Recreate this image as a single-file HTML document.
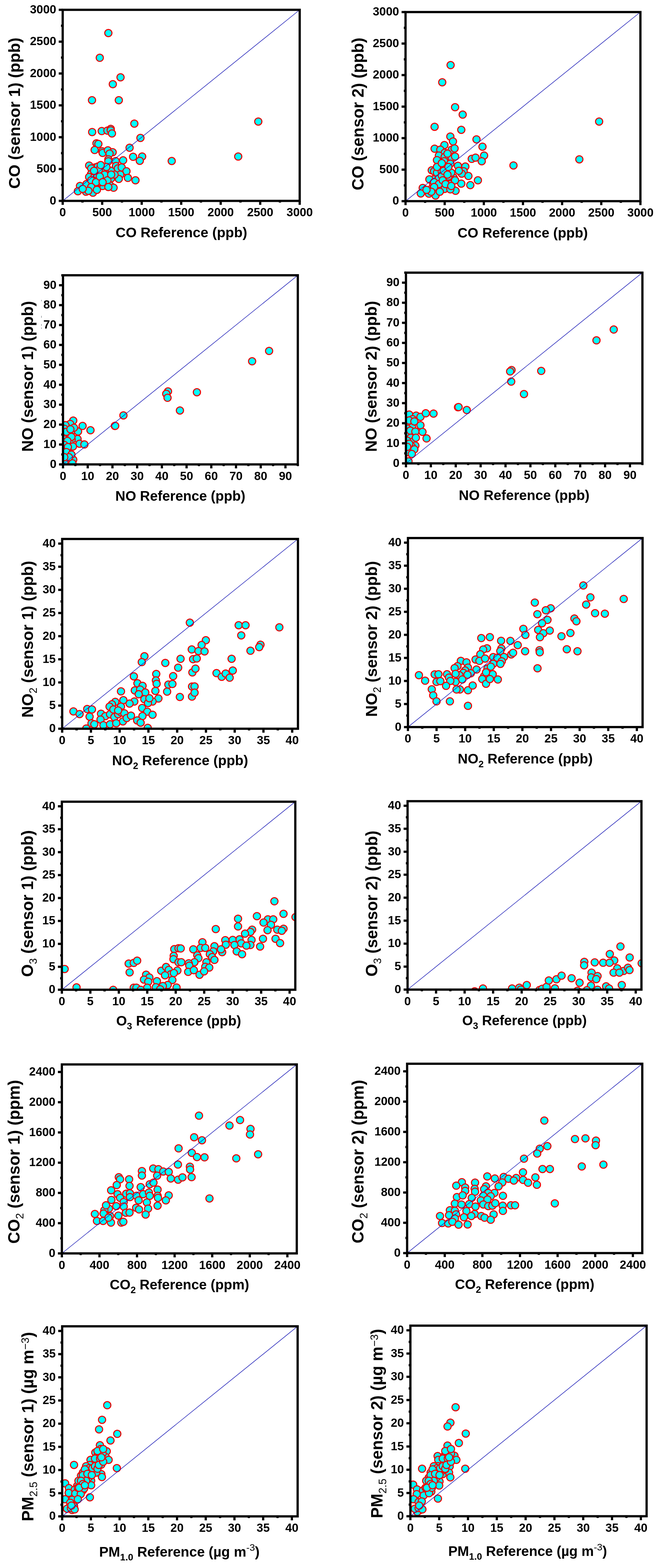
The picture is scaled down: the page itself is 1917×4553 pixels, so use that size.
<!DOCTYPE html>
<html><head><meta charset="utf-8"><title>Sensor vs reference scatter plots</title>
<style>html,body{margin:0;padding:0;background:#fff;}body{width:1917px;height:4553px;overflow:hidden;}svg{display:block;}</style>
</head><body>
<svg width="1917" height="4553" viewBox="0 0 1917 4553">
<rect width="1917" height="4553" fill="#fff"/>
<g><clipPath id="c0"><rect x="182.1" y="28.5" width="688.4" height="554.8"/></clipPath><g clip-path="url(#c0)" fill="#00ffff" stroke="#ee0000" stroke-width="3.0"><circle cx="390.2" cy="359.0" r="10.5"/><circle cx="267.7" cy="383.4" r="10.5"/><circle cx="295.4" cy="380.6" r="10.5"/><circle cx="312.0" cy="379.2" r="10.5"/><circle cx="321.6" cy="374.2" r="10.5"/><circle cx="321.6" cy="378.4" r="10.5"/><circle cx="325.2" cy="387.5" r="10.5"/><circle cx="407.9" cy="400.5" r="10.5"/><circle cx="280.2" cy="416.3" r="10.5"/><circle cx="285.7" cy="417.9" r="10.5"/><circle cx="274.9" cy="435.6" r="10.5"/><circle cx="296.7" cy="439.2" r="10.5"/><circle cx="298.1" cy="443.9" r="10.5"/><circle cx="313.3" cy="436.5" r="10.5"/><circle cx="327.2" cy="442.0" r="10.5"/><circle cx="318.3" cy="446.1" r="10.5"/><circle cx="376.4" cy="429.0" r="10.5"/><circle cx="386.6" cy="455.3" r="10.5"/><circle cx="412.9" cy="454.4" r="10.5"/><circle cx="406.0" cy="466.9" r="10.5"/><circle cx="314.7" cy="462.7" r="10.5"/><circle cx="314.7" cy="468.2" r="10.5"/><circle cx="335.7" cy="467.7" r="10.5"/><circle cx="357.6" cy="465.5" r="10.5"/><circle cx="258.9" cy="480.7" r="10.5"/><circle cx="276.0" cy="486.2" r="10.5"/><circle cx="284.3" cy="483.5" r="10.5"/><circle cx="264.9" cy="489.0" r="10.5"/><circle cx="298.1" cy="487.6" r="10.5"/><circle cx="310.6" cy="493.7" r="10.5"/><circle cx="324.4" cy="495.9" r="10.5"/><circle cx="336.8" cy="482.1" r="10.5"/><circle cx="342.4" cy="489.0" r="10.5"/><circle cx="353.4" cy="486.2" r="10.5"/><circle cx="367.3" cy="497.3" r="10.5"/><circle cx="264.4" cy="505.6" r="10.5"/><circle cx="258.9" cy="513.9" r="10.5"/><circle cx="273.2" cy="515.3" r="10.5"/><circle cx="303.7" cy="515.3" r="10.5"/><circle cx="298.1" cy="507.0" r="10.5"/><circle cx="323.0" cy="518.0" r="10.5"/><circle cx="349.3" cy="507.0" r="10.5"/><circle cx="345.1" cy="519.4" r="10.5"/><circle cx="371.4" cy="516.6" r="10.5"/><circle cx="393.5" cy="523.5" r="10.5"/><circle cx="291.2" cy="526.3" r="10.5"/><circle cx="306.4" cy="529.1" r="10.5"/><circle cx="312.0" cy="533.2" r="10.5"/><circle cx="320.2" cy="538.8" r="10.5"/><circle cx="329.9" cy="545.1" r="10.5"/><circle cx="298.1" cy="540.1" r="10.5"/><circle cx="232.3" cy="540.1" r="10.5"/><circle cx="226.2" cy="555.3" r="10.5"/><circle cx="249.7" cy="556.7" r="10.5"/><circle cx="256.7" cy="538.8" r="10.5"/><circle cx="271.9" cy="541.5" r="10.5"/><circle cx="269.9" cy="559.5" r="10.5"/><circle cx="280.2" cy="541.5" r="10.5"/><circle cx="287.1" cy="529.1" r="10.5"/><circle cx="281.5" cy="507.0" r="10.5"/><circle cx="251.1" cy="534.6" r="10.5"/><circle cx="303.7" cy="495.9" r="10.5"/><circle cx="332.7" cy="507.0" r="10.5"/><circle cx="287.1" cy="493.1" r="10.5"/><circle cx="314.7" cy="95.9" r="10.5"/><circle cx="289.8" cy="167.8" r="10.5"/><circle cx="350.1" cy="224.5" r="10.5"/><circle cx="327.7" cy="244.4" r="10.5"/><circle cx="267.2" cy="290.9" r="10.5"/><circle cx="345.1" cy="290.9" r="10.5"/><circle cx="750.2" cy="352.9" r="10.5"/><circle cx="691.9" cy="454.6" r="10.5"/><circle cx="498.8" cy="467.5" r="10.5"/><circle cx="264.9" cy="523.5" r="10.5"/><circle cx="278.8" cy="529.1" r="10.5"/><circle cx="264.9" cy="542.9" r="10.5"/><circle cx="303.7" cy="507.0" r="10.5"/><circle cx="312.0" cy="523.5" r="10.5"/><circle cx="323.0" cy="507.0" r="10.5"/><circle cx="289.8" cy="512.5" r="10.5"/><circle cx="298.1" cy="529.1" r="10.5"/><circle cx="314.7" cy="542.9" r="10.5"/><circle cx="281.5" cy="551.2" r="10.5"/><circle cx="256.7" cy="554.0" r="10.5"/><circle cx="240.1" cy="548.4" r="10.5"/><circle cx="273.2" cy="495.9" r="10.5"/><circle cx="309.2" cy="484.8" r="10.5"/><circle cx="292.6" cy="479.3" r="10.5"/></g><line x1="182.1" y1="583.3" x2="870.5" y2="28.5" stroke="#1414b4" stroke-width="1.5"/><rect x="182.1" y="28.5" width="688.4" height="554.8" fill="none" stroke="#000" stroke-width="6.5"/><line x1="182.1" y1="583.3" x2="182.1" y2="594.8" stroke="#000" stroke-width="6.5"/><line x1="239.5" y1="583.3" x2="239.5" y2="588.3" stroke="#000" stroke-width="6.5"/><line x1="296.8" y1="583.3" x2="296.8" y2="594.8" stroke="#000" stroke-width="6.5"/><line x1="354.2" y1="583.3" x2="354.2" y2="588.3" stroke="#000" stroke-width="6.5"/><line x1="411.6" y1="583.3" x2="411.6" y2="594.8" stroke="#000" stroke-width="6.5"/><line x1="468.9" y1="583.3" x2="468.9" y2="588.3" stroke="#000" stroke-width="6.5"/><line x1="526.3" y1="583.3" x2="526.3" y2="594.8" stroke="#000" stroke-width="6.5"/><line x1="583.7" y1="583.3" x2="583.7" y2="588.3" stroke="#000" stroke-width="6.5"/><line x1="641.0" y1="583.3" x2="641.0" y2="594.8" stroke="#000" stroke-width="6.5"/><line x1="698.4" y1="583.3" x2="698.4" y2="588.3" stroke="#000" stroke-width="6.5"/><line x1="755.8" y1="583.3" x2="755.8" y2="594.8" stroke="#000" stroke-width="6.5"/><line x1="813.1" y1="583.3" x2="813.1" y2="588.3" stroke="#000" stroke-width="6.5"/><line x1="870.5" y1="583.3" x2="870.5" y2="594.8" stroke="#000" stroke-width="6.5"/><line x1="182.1" y1="583.3" x2="170.6" y2="583.3" stroke="#000" stroke-width="6.5"/><line x1="182.1" y1="537.1" x2="177.1" y2="537.1" stroke="#000" stroke-width="6.5"/><line x1="182.1" y1="490.8" x2="170.6" y2="490.8" stroke="#000" stroke-width="6.5"/><line x1="182.1" y1="444.6" x2="177.1" y2="444.6" stroke="#000" stroke-width="6.5"/><line x1="182.1" y1="398.4" x2="170.6" y2="398.4" stroke="#000" stroke-width="6.5"/><line x1="182.1" y1="352.1" x2="177.1" y2="352.1" stroke="#000" stroke-width="6.5"/><line x1="182.1" y1="305.9" x2="170.6" y2="305.9" stroke="#000" stroke-width="6.5"/><line x1="182.1" y1="259.7" x2="177.1" y2="259.7" stroke="#000" stroke-width="6.5"/><line x1="182.1" y1="213.4" x2="170.6" y2="213.4" stroke="#000" stroke-width="6.5"/><line x1="182.1" y1="167.2" x2="177.1" y2="167.2" stroke="#000" stroke-width="6.5"/><line x1="182.1" y1="121.0" x2="170.6" y2="121.0" stroke="#000" stroke-width="6.5"/><line x1="182.1" y1="74.7" x2="177.1" y2="74.7" stroke="#000" stroke-width="6.5"/><line x1="182.1" y1="28.5" x2="170.6" y2="28.5" stroke="#000" stroke-width="6.5"/><g font-family="'Liberation Sans', Arial, sans-serif" font-weight="bold" font-size="34.3" fill="#000"><text x="182.1" y="628.3" text-anchor="middle">0</text><text x="296.8" y="628.3" text-anchor="middle">500</text><text x="411.6" y="628.3" text-anchor="middle">1000</text><text x="526.3" y="628.3" text-anchor="middle">1500</text><text x="641.0" y="628.3" text-anchor="middle">2000</text><text x="755.8" y="628.3" text-anchor="middle">2500</text><text x="870.5" y="628.3" text-anchor="middle">3000</text><text x="163.3" y="593.6" text-anchor="end">0</text><text x="163.3" y="501.1" text-anchor="end">500</text><text x="163.3" y="408.7" text-anchor="end">1000</text><text x="163.3" y="316.2" text-anchor="end">1500</text><text x="163.3" y="223.7" text-anchor="end">2000</text><text x="163.3" y="131.3" text-anchor="end">2500</text><text x="163.3" y="38.8" text-anchor="end">3000</text></g><text x="335.80" y="688.79" font-family="'Liberation Sans', Arial, sans-serif" font-weight="bold" font-size="40.73"><tspan>CO Reference (ppb)</tspan></text><text transform="translate(58.09,548.20) rotate(-90)" font-family="'Liberation Sans', Arial, sans-serif" font-weight="bold" font-size="47.06"><tspan>CO (sensor 1) (ppb)</tspan></text></g>
<g><clipPath id="c1"><rect x="1177.9" y="35.0" width="682.2" height="549.1"/></clipPath><g clip-path="url(#c1)" fill="#00ffff" stroke="#ee0000" stroke-width="3.0"><circle cx="1343.9" cy="332.8" r="10.5"/><circle cx="1262.3" cy="368.2" r="10.5"/><circle cx="1339.8" cy="377.0" r="10.5"/><circle cx="1308.0" cy="396.4" r="10.5"/><circle cx="1315.7" cy="410.7" r="10.5"/><circle cx="1384.0" cy="404.7" r="10.5"/><circle cx="1401.4" cy="425.9" r="10.5"/><circle cx="1290.8" cy="421.2" r="10.5"/><circle cx="1262.3" cy="431.8" r="10.5"/><circle cx="1278.9" cy="434.5" r="10.5"/><circle cx="1312.1" cy="434.5" r="10.5"/><circle cx="1320.4" cy="430.9" r="10.5"/><circle cx="1291.9" cy="443.4" r="10.5"/><circle cx="1274.8" cy="451.7" r="10.5"/><circle cx="1291.4" cy="455.8" r="10.5"/><circle cx="1269.2" cy="464.9" r="10.5"/><circle cx="1312.1" cy="458.6" r="10.5"/><circle cx="1321.8" cy="454.4" r="10.5"/><circle cx="1406.1" cy="451.7" r="10.5"/><circle cx="1370.2" cy="461.3" r="10.5"/><circle cx="1381.2" cy="457.7" r="10.5"/><circle cx="1399.2" cy="468.2" r="10.5"/><circle cx="1290.0" cy="468.2" r="10.5"/><circle cx="1308.0" cy="475.2" r="10.5"/><circle cx="1330.1" cy="481.5" r="10.5"/><circle cx="1351.6" cy="483.5" r="10.5"/><circle cx="1290.0" cy="482.1" r="10.5"/><circle cx="1254.0" cy="494.5" r="10.5"/><circle cx="1260.9" cy="497.3" r="10.5"/><circle cx="1272.0" cy="495.9" r="10.5"/><circle cx="1269.2" cy="501.4" r="10.5"/><circle cx="1305.2" cy="499.2" r="10.5"/><circle cx="1346.7" cy="497.3" r="10.5"/><circle cx="1341.1" cy="504.2" r="10.5"/><circle cx="1360.5" cy="511.1" r="10.5"/><circle cx="1283.1" cy="498.7" r="10.5"/><circle cx="1258.2" cy="520.8" r="10.5"/><circle cx="1247.1" cy="520.8" r="10.5"/><circle cx="1274.8" cy="518.0" r="10.5"/><circle cx="1294.1" cy="518.0" r="10.5"/><circle cx="1317.6" cy="515.8" r="10.5"/><circle cx="1316.2" cy="523.5" r="10.5"/><circle cx="1299.7" cy="529.1" r="10.5"/><circle cx="1388.1" cy="523.5" r="10.5"/><circle cx="1339.8" cy="533.2" r="10.5"/><circle cx="1366.0" cy="537.4" r="10.5"/><circle cx="1285.8" cy="540.1" r="10.5"/><circle cx="1299.7" cy="545.7" r="10.5"/><circle cx="1313.5" cy="548.4" r="10.5"/><circle cx="1323.2" cy="554.0" r="10.5"/><circle cx="1227.8" cy="545.7" r="10.5"/><circle cx="1222.2" cy="561.7" r="10.5"/><circle cx="1245.7" cy="562.3" r="10.5"/><circle cx="1252.7" cy="548.4" r="10.5"/><circle cx="1263.7" cy="551.2" r="10.5"/><circle cx="1266.5" cy="554.5" r="10.5"/><circle cx="1265.1" cy="567.8" r="10.5"/><circle cx="1277.5" cy="551.2" r="10.5"/><circle cx="1291.4" cy="548.4" r="10.5"/><circle cx="1308.0" cy="549.8" r="10.5"/><circle cx="1269.2" cy="536.0" r="10.5"/><circle cx="1258.2" cy="534.6" r="10.5"/><circle cx="1283.1" cy="509.7" r="10.5"/><circle cx="1302.4" cy="512.5" r="10.5"/><circle cx="1310.7" cy="501.4" r="10.5"/><circle cx="1288.6" cy="495.9" r="10.5"/><circle cx="1308.8" cy="189.1" r="10.5"/><circle cx="1284.5" cy="238.9" r="10.5"/><circle cx="1321.8" cy="311.3" r="10.5"/><circle cx="1740.2" cy="352.9" r="10.5"/><circle cx="1682.7" cy="462.7" r="10.5"/><circle cx="1491.4" cy="480.4" r="10.5"/><circle cx="1260.9" cy="529.1" r="10.5"/><circle cx="1274.8" cy="534.6" r="10.5"/><circle cx="1260.9" cy="542.9" r="10.5"/><circle cx="1299.7" cy="507.0" r="10.5"/><circle cx="1308.0" cy="534.6" r="10.5"/><circle cx="1321.8" cy="523.5" r="10.5"/><circle cx="1285.8" cy="523.5" r="10.5"/><circle cx="1294.1" cy="534.6" r="10.5"/><circle cx="1310.7" cy="540.1" r="10.5"/><circle cx="1277.5" cy="556.7" r="10.5"/><circle cx="1252.7" cy="556.7" r="10.5"/><circle cx="1238.8" cy="551.2" r="10.5"/><circle cx="1269.2" cy="484.8" r="10.5"/><circle cx="1302.4" cy="484.8" r="10.5"/><circle cx="1299.7" cy="446.1" r="10.5"/><circle cx="1283.1" cy="473.8" r="10.5"/><circle cx="1332.8" cy="495.9" r="10.5"/></g><line x1="1177.9" y1="584.1" x2="1860.1" y2="35.0" stroke="#1414b4" stroke-width="1.5"/><rect x="1177.9" y="35.0" width="682.2" height="549.1" fill="none" stroke="#000" stroke-width="6.5"/><line x1="1177.9" y1="584.1" x2="1177.9" y2="595.6" stroke="#000" stroke-width="6.5"/><line x1="1234.8" y1="584.1" x2="1234.8" y2="589.1" stroke="#000" stroke-width="6.5"/><line x1="1291.6" y1="584.1" x2="1291.6" y2="595.6" stroke="#000" stroke-width="6.5"/><line x1="1348.5" y1="584.1" x2="1348.5" y2="589.1" stroke="#000" stroke-width="6.5"/><line x1="1405.3" y1="584.1" x2="1405.3" y2="595.6" stroke="#000" stroke-width="6.5"/><line x1="1462.2" y1="584.1" x2="1462.2" y2="589.1" stroke="#000" stroke-width="6.5"/><line x1="1519.0" y1="584.1" x2="1519.0" y2="595.6" stroke="#000" stroke-width="6.5"/><line x1="1575.8" y1="584.1" x2="1575.8" y2="589.1" stroke="#000" stroke-width="6.5"/><line x1="1632.7" y1="584.1" x2="1632.7" y2="595.6" stroke="#000" stroke-width="6.5"/><line x1="1689.5" y1="584.1" x2="1689.5" y2="589.1" stroke="#000" stroke-width="6.5"/><line x1="1746.4" y1="584.1" x2="1746.4" y2="595.6" stroke="#000" stroke-width="6.5"/><line x1="1803.2" y1="584.1" x2="1803.2" y2="589.1" stroke="#000" stroke-width="6.5"/><line x1="1860.1" y1="584.1" x2="1860.1" y2="595.6" stroke="#000" stroke-width="6.5"/><line x1="1177.9" y1="584.1" x2="1166.4" y2="584.1" stroke="#000" stroke-width="6.5"/><line x1="1177.9" y1="538.3" x2="1172.9" y2="538.3" stroke="#000" stroke-width="6.5"/><line x1="1177.9" y1="492.6" x2="1166.4" y2="492.6" stroke="#000" stroke-width="6.5"/><line x1="1177.9" y1="446.8" x2="1172.9" y2="446.8" stroke="#000" stroke-width="6.5"/><line x1="1177.9" y1="401.1" x2="1166.4" y2="401.1" stroke="#000" stroke-width="6.5"/><line x1="1177.9" y1="355.3" x2="1172.9" y2="355.3" stroke="#000" stroke-width="6.5"/><line x1="1177.9" y1="309.6" x2="1166.4" y2="309.6" stroke="#000" stroke-width="6.5"/><line x1="1177.9" y1="263.8" x2="1172.9" y2="263.8" stroke="#000" stroke-width="6.5"/><line x1="1177.9" y1="218.0" x2="1166.4" y2="218.0" stroke="#000" stroke-width="6.5"/><line x1="1177.9" y1="172.3" x2="1172.9" y2="172.3" stroke="#000" stroke-width="6.5"/><line x1="1177.9" y1="126.5" x2="1166.4" y2="126.5" stroke="#000" stroke-width="6.5"/><line x1="1177.9" y1="80.8" x2="1172.9" y2="80.8" stroke="#000" stroke-width="6.5"/><line x1="1177.9" y1="35.0" x2="1166.4" y2="35.0" stroke="#000" stroke-width="6.5"/><g font-family="'Liberation Sans', Arial, sans-serif" font-weight="bold" font-size="34.3" fill="#000"><text x="1177.9" y="629.1" text-anchor="middle">0</text><text x="1291.6" y="629.1" text-anchor="middle">500</text><text x="1405.3" y="629.1" text-anchor="middle">1000</text><text x="1519.0" y="629.1" text-anchor="middle">1500</text><text x="1632.7" y="629.1" text-anchor="middle">2000</text><text x="1746.4" y="629.1" text-anchor="middle">2500</text><text x="1860.1" y="629.1" text-anchor="middle">3000</text><text x="1159.1" y="594.4" text-anchor="end">0</text><text x="1159.1" y="502.9" text-anchor="end">500</text><text x="1159.1" y="411.4" text-anchor="end">1000</text><text x="1159.1" y="319.9" text-anchor="end">1500</text><text x="1159.1" y="228.3" text-anchor="end">2000</text><text x="1159.1" y="136.8" text-anchor="end">2500</text><text x="1159.1" y="45.3" text-anchor="end">3000</text></g><text x="1329.00" y="690.37" font-family="'Liberation Sans', Arial, sans-serif" font-weight="bold" font-size="40.32"><tspan>CO Reference (ppb)</tspan></text><text transform="translate(1055.50,552.40) rotate(-90)" font-family="'Liberation Sans', Arial, sans-serif" font-weight="bold" font-size="47.50"><tspan>CO (sensor 2) (ppb)</tspan></text></g>
<g><clipPath id="c2"><rect x="183.0" y="799.3" width="682.0" height="549.2"/></clipPath><g clip-path="url(#c2)" fill="#00ffff" stroke="#ee0000" stroke-width="3.0"><circle cx="212.7" cy="1221.3" r="10.5"/><circle cx="203.8" cy="1230.9" r="10.5"/><circle cx="195.0" cy="1241.9" r="10.5"/><circle cx="189.8" cy="1234.6" r="10.5"/><circle cx="186.8" cy="1244.9" r="10.5"/><circle cx="213.4" cy="1248.6" r="10.5"/><circle cx="226.7" cy="1253.0" r="10.5"/><circle cx="239.9" cy="1236.8" r="10.5"/><circle cx="262.8" cy="1249.3" r="10.5"/><circle cx="333.6" cy="1236.8" r="10.5"/><circle cx="200.9" cy="1263.3" r="10.5"/><circle cx="186.8" cy="1259.6" r="10.5"/><circle cx="225.2" cy="1274.4" r="10.5"/><circle cx="208.2" cy="1276.6" r="10.5"/><circle cx="202.3" cy="1286.2" r="10.5"/><circle cx="231.1" cy="1288.4" r="10.5"/><circle cx="245.1" cy="1290.6" r="10.5"/><circle cx="186.8" cy="1275.9" r="10.5"/><circle cx="189.8" cy="1292.1" r="10.5"/><circle cx="201.6" cy="1306.8" r="10.5"/><circle cx="211.9" cy="1296.5" r="10.5"/><circle cx="198.6" cy="1317.1" r="10.5"/><circle cx="191.3" cy="1323.0" r="10.5"/><circle cx="212.7" cy="1334.8" r="10.5"/><circle cx="194.2" cy="1336.3" r="10.5"/><circle cx="203.1" cy="1343.7" r="10.5"/><circle cx="186.8" cy="1342.2" r="10.5"/><circle cx="186.8" cy="1305.3" r="10.5"/><circle cx="210.4" cy="1345.2" r="10.5"/><circle cx="781.6" cy="1019.1" r="10.5"/><circle cx="732.3" cy="1049.1" r="10.5"/><circle cx="488.0" cy="1136.6" r="10.5"/><circle cx="482.9" cy="1143.5" r="10.5"/><circle cx="486.6" cy="1155.1" r="10.5"/><circle cx="571.9" cy="1138.9" r="10.5"/><circle cx="522.6" cy="1191.9" r="10.5"/><circle cx="358.5" cy="1206.2" r="10.5"/><circle cx="334.6" cy="1236.6" r="10.5"/><circle cx="192.7" cy="1253.7" r="10.5"/><circle cx="207.5" cy="1268.5" r="10.5"/><circle cx="195.7" cy="1280.3" r="10.5"/><circle cx="186.8" cy="1292.1" r="10.5"/><circle cx="197.2" cy="1298.0" r="10.5"/><circle cx="192.7" cy="1312.7" r="10.5"/><circle cx="207.5" cy="1320.1" r="10.5"/><circle cx="200.1" cy="1327.5" r="10.5"/><circle cx="186.8" cy="1327.5" r="10.5"/><circle cx="214.9" cy="1241.9" r="10.5"/><circle cx="204.5" cy="1246.4" r="10.5"/></g><line x1="183.0" y1="1348.5" x2="865.0" y2="799.3" stroke="#1414b4" stroke-width="1.5"/><rect x="183.0" y="799.3" width="682.0" height="549.2" fill="none" stroke="#000" stroke-width="6.5"/><line x1="183.0" y1="1348.5" x2="183.0" y2="1360.0" stroke="#000" stroke-width="6.5"/><line x1="218.9" y1="1348.5" x2="218.9" y2="1353.5" stroke="#000" stroke-width="6.5"/><line x1="254.8" y1="1348.5" x2="254.8" y2="1360.0" stroke="#000" stroke-width="6.5"/><line x1="290.7" y1="1348.5" x2="290.7" y2="1353.5" stroke="#000" stroke-width="6.5"/><line x1="326.6" y1="1348.5" x2="326.6" y2="1360.0" stroke="#000" stroke-width="6.5"/><line x1="362.5" y1="1348.5" x2="362.5" y2="1353.5" stroke="#000" stroke-width="6.5"/><line x1="398.4" y1="1348.5" x2="398.4" y2="1360.0" stroke="#000" stroke-width="6.5"/><line x1="434.3" y1="1348.5" x2="434.3" y2="1353.5" stroke="#000" stroke-width="6.5"/><line x1="470.2" y1="1348.5" x2="470.2" y2="1360.0" stroke="#000" stroke-width="6.5"/><line x1="506.1" y1="1348.5" x2="506.1" y2="1353.5" stroke="#000" stroke-width="6.5"/><line x1="541.9" y1="1348.5" x2="541.9" y2="1360.0" stroke="#000" stroke-width="6.5"/><line x1="577.8" y1="1348.5" x2="577.8" y2="1353.5" stroke="#000" stroke-width="6.5"/><line x1="613.7" y1="1348.5" x2="613.7" y2="1360.0" stroke="#000" stroke-width="6.5"/><line x1="649.6" y1="1348.5" x2="649.6" y2="1353.5" stroke="#000" stroke-width="6.5"/><line x1="685.5" y1="1348.5" x2="685.5" y2="1360.0" stroke="#000" stroke-width="6.5"/><line x1="721.4" y1="1348.5" x2="721.4" y2="1353.5" stroke="#000" stroke-width="6.5"/><line x1="757.3" y1="1348.5" x2="757.3" y2="1360.0" stroke="#000" stroke-width="6.5"/><line x1="793.2" y1="1348.5" x2="793.2" y2="1353.5" stroke="#000" stroke-width="6.5"/><line x1="829.1" y1="1348.5" x2="829.1" y2="1360.0" stroke="#000" stroke-width="6.5"/><line x1="865.0" y1="1348.5" x2="865.0" y2="1353.5" stroke="#000" stroke-width="6.5"/><line x1="183.0" y1="1348.5" x2="171.5" y2="1348.5" stroke="#000" stroke-width="6.5"/><line x1="183.0" y1="1319.6" x2="178.0" y2="1319.6" stroke="#000" stroke-width="6.5"/><line x1="183.0" y1="1290.7" x2="171.5" y2="1290.7" stroke="#000" stroke-width="6.5"/><line x1="183.0" y1="1261.8" x2="178.0" y2="1261.8" stroke="#000" stroke-width="6.5"/><line x1="183.0" y1="1232.9" x2="171.5" y2="1232.9" stroke="#000" stroke-width="6.5"/><line x1="183.0" y1="1204.0" x2="178.0" y2="1204.0" stroke="#000" stroke-width="6.5"/><line x1="183.0" y1="1175.1" x2="171.5" y2="1175.1" stroke="#000" stroke-width="6.5"/><line x1="183.0" y1="1146.2" x2="178.0" y2="1146.2" stroke="#000" stroke-width="6.5"/><line x1="183.0" y1="1117.3" x2="171.5" y2="1117.3" stroke="#000" stroke-width="6.5"/><line x1="183.0" y1="1088.4" x2="178.0" y2="1088.4" stroke="#000" stroke-width="6.5"/><line x1="183.0" y1="1059.4" x2="171.5" y2="1059.4" stroke="#000" stroke-width="6.5"/><line x1="183.0" y1="1030.5" x2="178.0" y2="1030.5" stroke="#000" stroke-width="6.5"/><line x1="183.0" y1="1001.6" x2="171.5" y2="1001.6" stroke="#000" stroke-width="6.5"/><line x1="183.0" y1="972.7" x2="178.0" y2="972.7" stroke="#000" stroke-width="6.5"/><line x1="183.0" y1="943.8" x2="171.5" y2="943.8" stroke="#000" stroke-width="6.5"/><line x1="183.0" y1="914.9" x2="178.0" y2="914.9" stroke="#000" stroke-width="6.5"/><line x1="183.0" y1="886.0" x2="171.5" y2="886.0" stroke="#000" stroke-width="6.5"/><line x1="183.0" y1="857.1" x2="178.0" y2="857.1" stroke="#000" stroke-width="6.5"/><line x1="183.0" y1="828.2" x2="171.5" y2="828.2" stroke="#000" stroke-width="6.5"/><line x1="183.0" y1="799.3" x2="178.0" y2="799.3" stroke="#000" stroke-width="6.5"/><g font-family="'Liberation Sans', Arial, sans-serif" font-weight="bold" font-size="34.3" fill="#000"><text x="183.0" y="1393.5" text-anchor="middle">0</text><text x="254.8" y="1393.5" text-anchor="middle">10</text><text x="326.6" y="1393.5" text-anchor="middle">20</text><text x="398.4" y="1393.5" text-anchor="middle">30</text><text x="470.2" y="1393.5" text-anchor="middle">40</text><text x="541.9" y="1393.5" text-anchor="middle">50</text><text x="613.7" y="1393.5" text-anchor="middle">60</text><text x="685.5" y="1393.5" text-anchor="middle">70</text><text x="757.3" y="1393.5" text-anchor="middle">80</text><text x="829.1" y="1393.5" text-anchor="middle">90</text><text x="164.2" y="1358.8" text-anchor="end">0</text><text x="164.2" y="1301.0" text-anchor="end">10</text><text x="164.2" y="1243.2" text-anchor="end">20</text><text x="164.2" y="1185.4" text-anchor="end">30</text><text x="164.2" y="1127.6" text-anchor="end">40</text><text x="164.2" y="1069.7" text-anchor="end">50</text><text x="164.2" y="1011.9" text-anchor="end">60</text><text x="164.2" y="954.1" text-anchor="end">70</text><text x="164.2" y="896.3" text-anchor="end">80</text><text x="164.2" y="838.5" text-anchor="end">90</text></g><text x="335.10" y="1453.92" font-family="'Liberation Sans', Arial, sans-serif" font-weight="bold" font-size="40.23"><tspan>NO Reference (ppb)</tspan></text><text transform="translate(96.31,1312.00) rotate(-90)" font-family="'Liberation Sans', Arial, sans-serif" font-weight="bold" font-size="46.95"><tspan>NO (sensor 1) (ppb)</tspan></text></g>
<g><clipPath id="c3"><rect x="1179.1" y="791.7" width="686.8" height="553.8"/></clipPath><g clip-path="url(#c3)" fill="#00ffff" stroke="#ee0000" stroke-width="3.0"><circle cx="1188.7" cy="1203.8" r="10.5"/><circle cx="1208.7" cy="1206.8" r="10.5"/><circle cx="1221.2" cy="1210.5" r="10.5"/><circle cx="1236.7" cy="1200.1" r="10.5"/><circle cx="1259.2" cy="1200.9" r="10.5"/><circle cx="1198.3" cy="1217.1" r="10.5"/><circle cx="1330.3" cy="1182.4" r="10.5"/><circle cx="1187.3" cy="1230.4" r="10.5"/><circle cx="1221.2" cy="1234.8" r="10.5"/><circle cx="1196.9" cy="1240.7" r="10.5"/><circle cx="1182.8" cy="1244.4" r="10.5"/><circle cx="1227.1" cy="1254.0" r="10.5"/><circle cx="1198.3" cy="1260.6" r="10.5"/><circle cx="1185.8" cy="1262.1" r="10.5"/><circle cx="1238.9" cy="1273.1" r="10.5"/><circle cx="1193.2" cy="1270.9" r="10.5"/><circle cx="1197.6" cy="1282.7" r="10.5"/><circle cx="1182.8" cy="1279.8" r="10.5"/><circle cx="1206.4" cy="1293.8" r="10.5"/><circle cx="1196.1" cy="1296.7" r="10.5"/><circle cx="1188.7" cy="1306.3" r="10.5"/><circle cx="1187.3" cy="1313.7" r="10.5"/><circle cx="1186.5" cy="1339.5" r="10.5"/><circle cx="1782.6" cy="956.8" r="10.5"/><circle cx="1732.5" cy="988.3" r="10.5"/><circle cx="1485.8" cy="1074.5" r="10.5"/><circle cx="1481.7" cy="1078.6" r="10.5"/><circle cx="1484.8" cy="1108.1" r="10.5"/><circle cx="1572.0" cy="1077.1" r="10.5"/><circle cx="1521.9" cy="1144.2" r="10.5"/><circle cx="1332.0" cy="1181.9" r="10.5"/><circle cx="1355.7" cy="1190.6" r="10.5"/><circle cx="1188.7" cy="1220.8" r="10.5"/><circle cx="1203.5" cy="1223.7" r="10.5"/><circle cx="1191.7" cy="1250.3" r="10.5"/><circle cx="1206.4" cy="1253.2" r="10.5"/><circle cx="1207.9" cy="1270.9" r="10.5"/><circle cx="1188.7" cy="1288.6" r="10.5"/><circle cx="1203.5" cy="1304.8" r="10.5"/><circle cx="1196.1" cy="1318.1" r="10.5"/><circle cx="1182.8" cy="1297.5" r="10.5"/></g><line x1="1179.1" y1="1345.5" x2="1865.9" y2="791.7" stroke="#1414b4" stroke-width="1.5"/><rect x="1179.1" y="791.7" width="686.8" height="553.8" fill="none" stroke="#000" stroke-width="6.5"/><line x1="1179.1" y1="1345.5" x2="1179.1" y2="1357.0" stroke="#000" stroke-width="6.5"/><line x1="1215.2" y1="1345.5" x2="1215.2" y2="1350.5" stroke="#000" stroke-width="6.5"/><line x1="1251.4" y1="1345.5" x2="1251.4" y2="1357.0" stroke="#000" stroke-width="6.5"/><line x1="1287.5" y1="1345.5" x2="1287.5" y2="1350.5" stroke="#000" stroke-width="6.5"/><line x1="1323.7" y1="1345.5" x2="1323.7" y2="1357.0" stroke="#000" stroke-width="6.5"/><line x1="1359.8" y1="1345.5" x2="1359.8" y2="1350.5" stroke="#000" stroke-width="6.5"/><line x1="1396.0" y1="1345.5" x2="1396.0" y2="1357.0" stroke="#000" stroke-width="6.5"/><line x1="1432.1" y1="1345.5" x2="1432.1" y2="1350.5" stroke="#000" stroke-width="6.5"/><line x1="1468.3" y1="1345.5" x2="1468.3" y2="1357.0" stroke="#000" stroke-width="6.5"/><line x1="1504.4" y1="1345.5" x2="1504.4" y2="1350.5" stroke="#000" stroke-width="6.5"/><line x1="1540.6" y1="1345.5" x2="1540.6" y2="1357.0" stroke="#000" stroke-width="6.5"/><line x1="1576.7" y1="1345.5" x2="1576.7" y2="1350.5" stroke="#000" stroke-width="6.5"/><line x1="1612.9" y1="1345.5" x2="1612.9" y2="1357.0" stroke="#000" stroke-width="6.5"/><line x1="1649.0" y1="1345.5" x2="1649.0" y2="1350.5" stroke="#000" stroke-width="6.5"/><line x1="1685.2" y1="1345.5" x2="1685.2" y2="1357.0" stroke="#000" stroke-width="6.5"/><line x1="1721.3" y1="1345.5" x2="1721.3" y2="1350.5" stroke="#000" stroke-width="6.5"/><line x1="1757.5" y1="1345.5" x2="1757.5" y2="1357.0" stroke="#000" stroke-width="6.5"/><line x1="1793.6" y1="1345.5" x2="1793.6" y2="1350.5" stroke="#000" stroke-width="6.5"/><line x1="1829.8" y1="1345.5" x2="1829.8" y2="1357.0" stroke="#000" stroke-width="6.5"/><line x1="1865.9" y1="1345.5" x2="1865.9" y2="1350.5" stroke="#000" stroke-width="6.5"/><line x1="1179.1" y1="1345.5" x2="1167.6" y2="1345.5" stroke="#000" stroke-width="6.5"/><line x1="1179.1" y1="1316.4" x2="1174.1" y2="1316.4" stroke="#000" stroke-width="6.5"/><line x1="1179.1" y1="1287.2" x2="1167.6" y2="1287.2" stroke="#000" stroke-width="6.5"/><line x1="1179.1" y1="1258.1" x2="1174.1" y2="1258.1" stroke="#000" stroke-width="6.5"/><line x1="1179.1" y1="1228.9" x2="1167.6" y2="1228.9" stroke="#000" stroke-width="6.5"/><line x1="1179.1" y1="1199.8" x2="1174.1" y2="1199.8" stroke="#000" stroke-width="6.5"/><line x1="1179.1" y1="1170.6" x2="1167.6" y2="1170.6" stroke="#000" stroke-width="6.5"/><line x1="1179.1" y1="1141.5" x2="1174.1" y2="1141.5" stroke="#000" stroke-width="6.5"/><line x1="1179.1" y1="1112.3" x2="1167.6" y2="1112.3" stroke="#000" stroke-width="6.5"/><line x1="1179.1" y1="1083.2" x2="1174.1" y2="1083.2" stroke="#000" stroke-width="6.5"/><line x1="1179.1" y1="1054.0" x2="1167.6" y2="1054.0" stroke="#000" stroke-width="6.5"/><line x1="1179.1" y1="1024.9" x2="1174.1" y2="1024.9" stroke="#000" stroke-width="6.5"/><line x1="1179.1" y1="995.7" x2="1167.6" y2="995.7" stroke="#000" stroke-width="6.5"/><line x1="1179.1" y1="966.6" x2="1174.1" y2="966.6" stroke="#000" stroke-width="6.5"/><line x1="1179.1" y1="937.4" x2="1167.6" y2="937.4" stroke="#000" stroke-width="6.5"/><line x1="1179.1" y1="908.3" x2="1174.1" y2="908.3" stroke="#000" stroke-width="6.5"/><line x1="1179.1" y1="879.1" x2="1167.6" y2="879.1" stroke="#000" stroke-width="6.5"/><line x1="1179.1" y1="850.0" x2="1174.1" y2="850.0" stroke="#000" stroke-width="6.5"/><line x1="1179.1" y1="820.8" x2="1167.6" y2="820.8" stroke="#000" stroke-width="6.5"/><line x1="1179.1" y1="791.7" x2="1174.1" y2="791.7" stroke="#000" stroke-width="6.5"/><g font-family="'Liberation Sans', Arial, sans-serif" font-weight="bold" font-size="34.3" fill="#000"><text x="1179.1" y="1390.5" text-anchor="middle">0</text><text x="1251.4" y="1390.5" text-anchor="middle">10</text><text x="1323.7" y="1390.5" text-anchor="middle">20</text><text x="1396.0" y="1390.5" text-anchor="middle">30</text><text x="1468.3" y="1390.5" text-anchor="middle">40</text><text x="1540.6" y="1390.5" text-anchor="middle">50</text><text x="1612.9" y="1390.5" text-anchor="middle">60</text><text x="1685.2" y="1390.5" text-anchor="middle">70</text><text x="1757.5" y="1390.5" text-anchor="middle">80</text><text x="1829.8" y="1390.5" text-anchor="middle">90</text><text x="1160.3" y="1355.8" text-anchor="end">0</text><text x="1160.3" y="1297.5" text-anchor="end">10</text><text x="1160.3" y="1239.2" text-anchor="end">20</text><text x="1160.3" y="1180.9" text-anchor="end">30</text><text x="1160.3" y="1122.6" text-anchor="end">40</text><text x="1160.3" y="1064.3" text-anchor="end">50</text><text x="1160.3" y="1006.0" text-anchor="end">60</text><text x="1160.3" y="947.7" text-anchor="end">70</text><text x="1160.3" y="889.4" text-anchor="end">80</text><text x="1160.3" y="831.1" text-anchor="end">90</text></g><text x="1332.60" y="1452.18" font-family="'Liberation Sans', Arial, sans-serif" font-weight="bold" font-size="40.45"><tspan>NO Reference (ppb)</tspan></text><text transform="translate(1093.66,1312.20) rotate(-90)" font-family="'Liberation Sans', Arial, sans-serif" font-weight="bold" font-size="46.99"><tspan>NO (sensor 2) (ppb)</tspan></text></g>
<g><clipPath id="c4"><rect x="180.6" y="1565.0" width="684.8" height="551.0"/></clipPath><g clip-path="url(#c4)" fill="#00ffff" stroke="#ee0000" stroke-width="3.0"><circle cx="419.5" cy="1905.5" r="10.5"/><circle cx="411.8" cy="1922.6" r="10.5"/><circle cx="480.1" cy="1924.9" r="10.5"/><circle cx="453.8" cy="1957.0" r="10.5"/><circle cx="388.8" cy="1963.9" r="10.5"/><circle cx="452.8" cy="1975.8" r="10.5"/><circle cx="454.9" cy="1985.5" r="10.5"/><circle cx="399.2" cy="1984.1" r="10.5"/><circle cx="414.1" cy="1991.5" r="10.5"/><circle cx="451.3" cy="2006.2" r="10.5"/><circle cx="351.4" cy="2007.6" r="10.5"/><circle cx="391.5" cy="2004.8" r="10.5"/><circle cx="407.0" cy="2002.2" r="10.5"/><circle cx="422.0" cy="2010.8" r="10.5"/><circle cx="402.8" cy="2015.8" r="10.5"/><circle cx="460.1" cy="2028.2" r="10.5"/><circle cx="443.1" cy="2036.9" r="10.5"/><circle cx="419.2" cy="2030.3" r="10.5"/><circle cx="429.9" cy="2041.5" r="10.5"/><circle cx="390.1" cy="2036.9" r="10.5"/><circle cx="376.3" cy="2043.0" r="10.5"/><circle cx="358.3" cy="2033.0" r="10.5"/><circle cx="334.8" cy="2038.0" r="10.5"/><circle cx="325.2" cy="2044.9" r="10.5"/><circle cx="318.2" cy="2051.8" r="10.5"/><circle cx="351.4" cy="2051.8" r="10.5"/><circle cx="213.2" cy="2065.7" r="10.5"/><circle cx="231.2" cy="2073.4" r="10.5"/><circle cx="253.3" cy="2058.8" r="10.5"/><circle cx="267.1" cy="2060.1" r="10.5"/><circle cx="260.2" cy="2080.9" r="10.5"/><circle cx="293.4" cy="2072.6" r="10.5"/><circle cx="305.8" cy="2079.5" r="10.5"/><circle cx="292.0" cy="2089.2" r="10.5"/><circle cx="319.6" cy="2074.0" r="10.5"/><circle cx="332.1" cy="2082.3" r="10.5"/><circle cx="343.1" cy="2074.0" r="10.5"/><circle cx="351.4" cy="2068.4" r="10.5"/><circle cx="361.1" cy="2071.2" r="10.5"/><circle cx="357.0" cy="2094.7" r="10.5"/><circle cx="368.0" cy="2085.0" r="10.5"/><circle cx="380.5" cy="2078.1" r="10.5"/><circle cx="412.8" cy="2055.8" r="10.5"/><circle cx="427.8" cy="2066.4" r="10.5"/><circle cx="443.1" cy="2075.4" r="10.5"/><circle cx="413.8" cy="2079.3" r="10.5"/><circle cx="398.4" cy="2091.9" r="10.5"/><circle cx="408.5" cy="2098.5" r="10.5"/><circle cx="429.1" cy="2113.6" r="10.5"/><circle cx="265.7" cy="2100.2" r="10.5"/><circle cx="274.0" cy="2103.0" r="10.5"/><circle cx="300.3" cy="2105.8" r="10.5"/><circle cx="319.6" cy="2103.0" r="10.5"/><circle cx="337.6" cy="2100.2" r="10.5"/><circle cx="250.5" cy="2115.4" r="10.5"/><circle cx="329.3" cy="2060.1" r="10.5"/><circle cx="343.1" cy="2062.9" r="10.5"/><circle cx="524.4" cy="1913.1" r="10.5"/><circle cx="517.5" cy="1938.7" r="10.5"/><circle cx="556.9" cy="1885.8" r="10.5"/><circle cx="560.8" cy="1914.1" r="10.5"/><circle cx="502.9" cy="1963.3" r="10.5"/><circle cx="489.0" cy="1987.8" r="10.5"/><circle cx="500.8" cy="1986.1" r="10.5"/><circle cx="485.4" cy="2008.3" r="10.5"/><circle cx="522.4" cy="2023.8" r="10.5"/><circle cx="557.6" cy="2022.8" r="10.5"/><circle cx="557.8" cy="1993.5" r="10.5"/><circle cx="558.8" cy="1952.5" r="10.5"/><circle cx="433.9" cy="2027.5" r="10.5"/><circle cx="551.4" cy="1808.0" r="10.5"/><circle cx="693.2" cy="1815.5" r="10.5"/><circle cx="713.2" cy="1815.5" r="10.5"/><circle cx="811.4" cy="1821.6" r="10.5"/><circle cx="700.7" cy="1845.0" r="10.5"/><circle cx="597.9" cy="1859.0" r="10.5"/><circle cx="585.6" cy="1872.8" r="10.5"/><circle cx="576.4" cy="1890.4" r="10.5"/><circle cx="594.1" cy="1891.5" r="10.5"/><circle cx="727.5" cy="1889.6" r="10.5"/><circle cx="756.6" cy="1871.9" r="10.5"/><circle cx="752.9" cy="1879.0" r="10.5"/><circle cx="571.5" cy="1911.9" r="10.5"/><circle cx="672.7" cy="1913.0" r="10.5"/><circle cx="567.7" cy="1941.4" r="10.5"/><circle cx="628.9" cy="1954.6" r="10.5"/><circle cx="644.0" cy="1965.2" r="10.5"/><circle cx="655.4" cy="1955.7" r="10.5"/><circle cx="667.1" cy="1967.8" r="10.5"/><circle cx="676.1" cy="1947.1" r="10.5"/><circle cx="565.1" cy="1993.2" r="10.5"/><circle cx="565.1" cy="2011.3" r="10.5"/></g><line x1="180.6" y1="2116.0" x2="865.4" y2="1565.0" stroke="#1414b4" stroke-width="1.5"/><rect x="180.6" y="1565.0" width="684.8" height="551.0" fill="none" stroke="#000" stroke-width="6.5"/><line x1="180.6" y1="2116.0" x2="180.6" y2="2127.5" stroke="#000" stroke-width="6.5"/><line x1="222.4" y1="2116.0" x2="222.4" y2="2121.0" stroke="#000" stroke-width="6.5"/><line x1="264.1" y1="2116.0" x2="264.1" y2="2127.5" stroke="#000" stroke-width="6.5"/><line x1="305.9" y1="2116.0" x2="305.9" y2="2121.0" stroke="#000" stroke-width="6.5"/><line x1="347.6" y1="2116.0" x2="347.6" y2="2127.5" stroke="#000" stroke-width="6.5"/><line x1="389.4" y1="2116.0" x2="389.4" y2="2121.0" stroke="#000" stroke-width="6.5"/><line x1="431.1" y1="2116.0" x2="431.1" y2="2127.5" stroke="#000" stroke-width="6.5"/><line x1="472.9" y1="2116.0" x2="472.9" y2="2121.0" stroke="#000" stroke-width="6.5"/><line x1="514.6" y1="2116.0" x2="514.6" y2="2127.5" stroke="#000" stroke-width="6.5"/><line x1="556.4" y1="2116.0" x2="556.4" y2="2121.0" stroke="#000" stroke-width="6.5"/><line x1="598.2" y1="2116.0" x2="598.2" y2="2127.5" stroke="#000" stroke-width="6.5"/><line x1="639.9" y1="2116.0" x2="639.9" y2="2121.0" stroke="#000" stroke-width="6.5"/><line x1="681.7" y1="2116.0" x2="681.7" y2="2127.5" stroke="#000" stroke-width="6.5"/><line x1="723.4" y1="2116.0" x2="723.4" y2="2121.0" stroke="#000" stroke-width="6.5"/><line x1="765.2" y1="2116.0" x2="765.2" y2="2127.5" stroke="#000" stroke-width="6.5"/><line x1="806.9" y1="2116.0" x2="806.9" y2="2121.0" stroke="#000" stroke-width="6.5"/><line x1="848.7" y1="2116.0" x2="848.7" y2="2127.5" stroke="#000" stroke-width="6.5"/><line x1="180.6" y1="2116.0" x2="169.1" y2="2116.0" stroke="#000" stroke-width="6.5"/><line x1="180.6" y1="2082.4" x2="175.6" y2="2082.4" stroke="#000" stroke-width="6.5"/><line x1="180.6" y1="2048.8" x2="169.1" y2="2048.8" stroke="#000" stroke-width="6.5"/><line x1="180.6" y1="2015.2" x2="175.6" y2="2015.2" stroke="#000" stroke-width="6.5"/><line x1="180.6" y1="1981.6" x2="169.1" y2="1981.6" stroke="#000" stroke-width="6.5"/><line x1="180.6" y1="1948.0" x2="175.6" y2="1948.0" stroke="#000" stroke-width="6.5"/><line x1="180.6" y1="1914.4" x2="169.1" y2="1914.4" stroke="#000" stroke-width="6.5"/><line x1="180.6" y1="1880.8" x2="175.6" y2="1880.8" stroke="#000" stroke-width="6.5"/><line x1="180.6" y1="1847.2" x2="169.1" y2="1847.2" stroke="#000" stroke-width="6.5"/><line x1="180.6" y1="1813.6" x2="175.6" y2="1813.6" stroke="#000" stroke-width="6.5"/><line x1="180.6" y1="1780.0" x2="169.1" y2="1780.0" stroke="#000" stroke-width="6.5"/><line x1="180.6" y1="1746.4" x2="175.6" y2="1746.4" stroke="#000" stroke-width="6.5"/><line x1="180.6" y1="1712.8" x2="169.1" y2="1712.8" stroke="#000" stroke-width="6.5"/><line x1="180.6" y1="1679.2" x2="175.6" y2="1679.2" stroke="#000" stroke-width="6.5"/><line x1="180.6" y1="1645.6" x2="169.1" y2="1645.6" stroke="#000" stroke-width="6.5"/><line x1="180.6" y1="1612.0" x2="175.6" y2="1612.0" stroke="#000" stroke-width="6.5"/><line x1="180.6" y1="1578.4" x2="169.1" y2="1578.4" stroke="#000" stroke-width="6.5"/><g font-family="'Liberation Sans', Arial, sans-serif" font-weight="bold" font-size="34.3" fill="#000"><text x="180.6" y="2161.0" text-anchor="middle">0</text><text x="264.1" y="2161.0" text-anchor="middle">5</text><text x="347.6" y="2161.0" text-anchor="middle">10</text><text x="431.1" y="2161.0" text-anchor="middle">15</text><text x="514.6" y="2161.0" text-anchor="middle">20</text><text x="598.2" y="2161.0" text-anchor="middle">25</text><text x="681.7" y="2161.0" text-anchor="middle">30</text><text x="765.2" y="2161.0" text-anchor="middle">35</text><text x="848.7" y="2161.0" text-anchor="middle">40</text><text x="161.8" y="2126.3" text-anchor="end">0</text><text x="161.8" y="2059.1" text-anchor="end">5</text><text x="161.8" y="1991.9" text-anchor="end">10</text><text x="161.8" y="1924.7" text-anchor="end">15</text><text x="161.8" y="1857.5" text-anchor="end">20</text><text x="161.8" y="1790.3" text-anchor="end">25</text><text x="161.8" y="1723.1" text-anchor="end">30</text><text x="161.8" y="1655.9" text-anchor="end">35</text><text x="161.8" y="1588.7" text-anchor="end">40</text></g><text x="325.50" y="2221.79" font-family="'Liberation Sans', Arial, sans-serif" font-weight="bold" font-size="40.48"><tspan>NO</tspan><tspan font-size="27.5" font-weight="bold" dy="10.9">2</tspan><tspan dy="-10.9"> Reference (ppb)</tspan></text><text transform="translate(95.63,2083.90) rotate(-90)" font-family="'Liberation Sans', Arial, sans-serif" font-weight="bold" font-size="46.97"><tspan>NO</tspan><tspan font-size="30.8" font-weight="normal" dy="10.9">2</tspan><tspan dy="-10.9"> (sensor 1) (ppb)</tspan></text></g>
<g><clipPath id="c5"><rect x="1184.9" y="1562.3" width="681.5" height="548.9"/></clipPath><g clip-path="url(#c5)" fill="#00ffff" stroke="#ee0000" stroke-width="3.0"><circle cx="1397.9" cy="1852.8" r="10.5"/><circle cx="1422.8" cy="1850.0" r="10.5"/><circle cx="1455.5" cy="1860.7" r="10.5"/><circle cx="1482.4" cy="1860.9" r="10.5"/><circle cx="1414.5" cy="1882.6" r="10.5"/><circle cx="1403.4" cy="1885.9" r="10.5"/><circle cx="1456.2" cy="1883.2" r="10.5"/><circle cx="1453.1" cy="1890.5" r="10.5"/><circle cx="1395.1" cy="1899.8" r="10.5"/><circle cx="1485.0" cy="1900.2" r="10.5"/><circle cx="1338.5" cy="1919.1" r="10.5"/><circle cx="1355.0" cy="1923.3" r="10.5"/><circle cx="1381.3" cy="1915.0" r="10.5"/><circle cx="1392.4" cy="1919.1" r="10.5"/><circle cx="1409.0" cy="1912.2" r="10.5"/><circle cx="1432.5" cy="1908.1" r="10.5"/><circle cx="1463.8" cy="1907.7" r="10.5"/><circle cx="1444.4" cy="1909.8" r="10.5"/><circle cx="1457.4" cy="1920.2" r="10.5"/><circle cx="1432.5" cy="1927.4" r="10.5"/><circle cx="1415.9" cy="1941.2" r="10.5"/><circle cx="1384.1" cy="1944.0" r="10.5"/><circle cx="1359.2" cy="1938.5" r="10.5"/><circle cx="1328.8" cy="1934.3" r="10.5"/><circle cx="1320.5" cy="1939.9" r="10.5"/><circle cx="1350.9" cy="1946.8" r="10.5"/><circle cx="1345.4" cy="1953.7" r="10.5"/><circle cx="1334.3" cy="1960.6" r="10.5"/><circle cx="1367.5" cy="1955.1" r="10.5"/><circle cx="1323.2" cy="1956.5" r="10.5"/><circle cx="1357.8" cy="1959.2" r="10.5"/><circle cx="1298.4" cy="1957.8" r="10.5"/><circle cx="1303.9" cy="1967.5" r="10.5"/><circle cx="1323.2" cy="1980.0" r="10.5"/><circle cx="1342.6" cy="1973.0" r="10.5"/><circle cx="1308.0" cy="1977.2" r="10.5"/><circle cx="1216.8" cy="1960.6" r="10.5"/><circle cx="1234.8" cy="1976.6" r="10.5"/><circle cx="1262.5" cy="1958.2" r="10.5"/><circle cx="1273.5" cy="1957.8" r="10.5"/><circle cx="1267.9" cy="1980.0" r="10.5"/><circle cx="1279.0" cy="1977.7" r="10.5"/><circle cx="1295.6" cy="1991.6" r="10.5"/><circle cx="1254.1" cy="2001.5" r="10.5"/><circle cx="1258.3" cy="2019.2" r="10.5"/><circle cx="1267.9" cy="2036.6" r="10.5"/><circle cx="1306.7" cy="2036.6" r="10.5"/><circle cx="1335.7" cy="2002.1" r="10.5"/><circle cx="1326.0" cy="2002.1" r="10.5"/><circle cx="1359.2" cy="2004.3" r="10.5"/><circle cx="1373.0" cy="1990.5" r="10.5"/><circle cx="1359.2" cy="2049.6" r="10.5"/><circle cx="1406.2" cy="1963.4" r="10.5"/><circle cx="1400.7" cy="1971.7" r="10.5"/><circle cx="1411.7" cy="1985.5" r="10.5"/><circle cx="1431.1" cy="1957.8" r="10.5"/><circle cx="1422.8" cy="1971.7" r="10.5"/><circle cx="1446.0" cy="1973.1" r="10.5"/><circle cx="1425.6" cy="1935.7" r="10.5"/><circle cx="1411.7" cy="1952.3" r="10.5"/><circle cx="1694.3" cy="1700.1" r="10.5"/><circle cx="1714.8" cy="1734.6" r="10.5"/><circle cx="1702.5" cy="1755.5" r="10.5"/><circle cx="1811.6" cy="1739.2" r="10.5"/><circle cx="1553.4" cy="1749.7" r="10.5"/><circle cx="1599.5" cy="1766.3" r="10.5"/><circle cx="1585.2" cy="1772.1" r="10.5"/><circle cx="1560.8" cy="1783.4" r="10.5"/><circle cx="1728.4" cy="1780.6" r="10.5"/><circle cx="1756.8" cy="1782.0" r="10.5"/><circle cx="1668.4" cy="1796.1" r="10.5"/><circle cx="1674.2" cy="1803.9" r="10.5"/><circle cx="1590.2" cy="1800.0" r="10.5"/><circle cx="1574.3" cy="1809.7" r="10.5"/><circle cx="1520.1" cy="1825.9" r="10.5"/><circle cx="1563.1" cy="1829.0" r="10.5"/><circle cx="1578.2" cy="1838.7" r="10.5"/><circle cx="1596.8" cy="1831.0" r="10.5"/><circle cx="1525.9" cy="1843.7" r="10.5"/><circle cx="1568.3" cy="1850.3" r="10.5"/><circle cx="1656.8" cy="1837.9" r="10.5"/><circle cx="1630.8" cy="1847.6" r="10.5"/><circle cx="1503.8" cy="1873.2" r="10.5"/><circle cx="1525.2" cy="1891.0" r="10.5"/><circle cx="1567.0" cy="1887.9" r="10.5"/><circle cx="1567.7" cy="1894.1" r="10.5"/><circle cx="1490.3" cy="1895.6" r="10.5"/><circle cx="1453.5" cy="1927.7" r="10.5"/><circle cx="1646.3" cy="1885.2" r="10.5"/><circle cx="1677.3" cy="1891.0" r="10.5"/><circle cx="1561.2" cy="1940.5" r="10.5"/></g><line x1="1184.9" y1="2111.2" x2="1866.4" y2="1562.3" stroke="#1414b4" stroke-width="1.5"/><rect x="1184.9" y="1562.3" width="681.5" height="548.9" fill="none" stroke="#000" stroke-width="6.5"/><line x1="1184.9" y1="2111.2" x2="1184.9" y2="2122.7" stroke="#000" stroke-width="6.5"/><line x1="1226.5" y1="2111.2" x2="1226.5" y2="2116.2" stroke="#000" stroke-width="6.5"/><line x1="1268.0" y1="2111.2" x2="1268.0" y2="2122.7" stroke="#000" stroke-width="6.5"/><line x1="1309.6" y1="2111.2" x2="1309.6" y2="2116.2" stroke="#000" stroke-width="6.5"/><line x1="1351.1" y1="2111.2" x2="1351.1" y2="2122.7" stroke="#000" stroke-width="6.5"/><line x1="1392.7" y1="2111.2" x2="1392.7" y2="2116.2" stroke="#000" stroke-width="6.5"/><line x1="1434.2" y1="2111.2" x2="1434.2" y2="2122.7" stroke="#000" stroke-width="6.5"/><line x1="1475.8" y1="2111.2" x2="1475.8" y2="2116.2" stroke="#000" stroke-width="6.5"/><line x1="1517.3" y1="2111.2" x2="1517.3" y2="2122.7" stroke="#000" stroke-width="6.5"/><line x1="1558.9" y1="2111.2" x2="1558.9" y2="2116.2" stroke="#000" stroke-width="6.5"/><line x1="1600.4" y1="2111.2" x2="1600.4" y2="2122.7" stroke="#000" stroke-width="6.5"/><line x1="1642.0" y1="2111.2" x2="1642.0" y2="2116.2" stroke="#000" stroke-width="6.5"/><line x1="1683.6" y1="2111.2" x2="1683.6" y2="2122.7" stroke="#000" stroke-width="6.5"/><line x1="1725.1" y1="2111.2" x2="1725.1" y2="2116.2" stroke="#000" stroke-width="6.5"/><line x1="1766.7" y1="2111.2" x2="1766.7" y2="2122.7" stroke="#000" stroke-width="6.5"/><line x1="1808.2" y1="2111.2" x2="1808.2" y2="2116.2" stroke="#000" stroke-width="6.5"/><line x1="1849.8" y1="2111.2" x2="1849.8" y2="2122.7" stroke="#000" stroke-width="6.5"/><line x1="1184.9" y1="2111.2" x2="1173.4" y2="2111.2" stroke="#000" stroke-width="6.5"/><line x1="1184.9" y1="2077.7" x2="1179.9" y2="2077.7" stroke="#000" stroke-width="6.5"/><line x1="1184.9" y1="2044.3" x2="1173.4" y2="2044.3" stroke="#000" stroke-width="6.5"/><line x1="1184.9" y1="2010.8" x2="1179.9" y2="2010.8" stroke="#000" stroke-width="6.5"/><line x1="1184.9" y1="1977.3" x2="1173.4" y2="1977.3" stroke="#000" stroke-width="6.5"/><line x1="1184.9" y1="1943.9" x2="1179.9" y2="1943.9" stroke="#000" stroke-width="6.5"/><line x1="1184.9" y1="1910.4" x2="1173.4" y2="1910.4" stroke="#000" stroke-width="6.5"/><line x1="1184.9" y1="1876.9" x2="1179.9" y2="1876.9" stroke="#000" stroke-width="6.5"/><line x1="1184.9" y1="1843.4" x2="1173.4" y2="1843.4" stroke="#000" stroke-width="6.5"/><line x1="1184.9" y1="1810.0" x2="1179.9" y2="1810.0" stroke="#000" stroke-width="6.5"/><line x1="1184.9" y1="1776.5" x2="1173.4" y2="1776.5" stroke="#000" stroke-width="6.5"/><line x1="1184.9" y1="1743.0" x2="1179.9" y2="1743.0" stroke="#000" stroke-width="6.5"/><line x1="1184.9" y1="1709.6" x2="1173.4" y2="1709.6" stroke="#000" stroke-width="6.5"/><line x1="1184.9" y1="1676.1" x2="1179.9" y2="1676.1" stroke="#000" stroke-width="6.5"/><line x1="1184.9" y1="1642.6" x2="1173.4" y2="1642.6" stroke="#000" stroke-width="6.5"/><line x1="1184.9" y1="1609.2" x2="1179.9" y2="1609.2" stroke="#000" stroke-width="6.5"/><line x1="1184.9" y1="1575.7" x2="1173.4" y2="1575.7" stroke="#000" stroke-width="6.5"/><g font-family="'Liberation Sans', Arial, sans-serif" font-weight="bold" font-size="34.3" fill="#000"><text x="1184.9" y="2156.2" text-anchor="middle">0</text><text x="1268.0" y="2156.2" text-anchor="middle">5</text><text x="1351.1" y="2156.2" text-anchor="middle">10</text><text x="1434.2" y="2156.2" text-anchor="middle">15</text><text x="1517.3" y="2156.2" text-anchor="middle">20</text><text x="1600.4" y="2156.2" text-anchor="middle">25</text><text x="1683.6" y="2156.2" text-anchor="middle">30</text><text x="1766.7" y="2156.2" text-anchor="middle">35</text><text x="1849.8" y="2156.2" text-anchor="middle">40</text><text x="1166.1" y="2121.5" text-anchor="end">0</text><text x="1166.1" y="2054.6" text-anchor="end">5</text><text x="1166.1" y="1987.6" text-anchor="end">10</text><text x="1166.1" y="1920.7" text-anchor="end">15</text><text x="1166.1" y="1853.7" text-anchor="end">20</text><text x="1166.1" y="1786.8" text-anchor="end">25</text><text x="1166.1" y="1719.9" text-anchor="end">30</text><text x="1166.1" y="1652.9" text-anchor="end">35</text><text x="1166.1" y="1586.0" text-anchor="end">40</text></g><text x="1329.60" y="2216.73" font-family="'Liberation Sans', Arial, sans-serif" font-weight="bold" font-size="40.13"><tspan>NO</tspan><tspan font-size="27.3" font-weight="bold" dy="10.8">2</tspan><tspan dy="-10.8"> Reference (ppb)</tspan></text><text transform="translate(1094.62,2081.50) rotate(-90)" font-family="'Liberation Sans', Arial, sans-serif" font-weight="bold" font-size="46.68"><tspan>NO</tspan><tspan font-size="30.6" font-weight="normal" dy="10.9">2</tspan><tspan dy="-10.9"> (sensor 2) (ppb)</tspan></text></g>
<g><clipPath id="c6"><rect x="179.7" y="2327.9" width="678.0" height="546.0"/></clipPath><g clip-path="url(#c6)" fill="#00ffff" stroke="#ee0000" stroke-width="3.0"><circle cx="187.8" cy="2813.7" r="10.5"/><circle cx="222.3" cy="2867.0" r="10.5"/><circle cx="328.8" cy="2874.2" r="10.5"/><circle cx="373.7" cy="2798.0" r="10.5"/><circle cx="388.4" cy="2795.9" r="10.5"/><circle cx="398.4" cy="2789.6" r="10.5"/><circle cx="376.5" cy="2823.4" r="10.5"/><circle cx="506.2" cy="2755.9" r="10.5"/><circle cx="518.4" cy="2753.5" r="10.5"/><circle cx="504.6" cy="2775.6" r="10.5"/><circle cx="503.8" cy="2785.2" r="10.5"/><circle cx="518.4" cy="2794.3" r="10.5"/><circle cx="468.3" cy="2818.7" r="10.5"/><circle cx="482.4" cy="2807.8" r="10.5"/><circle cx="490.2" cy="2816.2" r="10.5"/><circle cx="515.2" cy="2818.2" r="10.5"/><circle cx="496.5" cy="2828.8" r="10.5"/><circle cx="479.3" cy="2831.9" r="10.5"/><circle cx="424.4" cy="2830.3" r="10.5"/><circle cx="433.8" cy="2838.2" r="10.5"/><circle cx="418.2" cy="2844.4" r="10.5"/><circle cx="430.7" cy="2850.7" r="10.5"/><circle cx="455.8" cy="2849.1" r="10.5"/><circle cx="500.6" cy="2845.7" r="10.5"/><circle cx="487.1" cy="2860.1" r="10.5"/><circle cx="473.0" cy="2863.2" r="10.5"/><circle cx="452.6" cy="2866.4" r="10.5"/><circle cx="427.6" cy="2867.9" r="10.5"/><circle cx="388.4" cy="2867.9" r="10.5"/><circle cx="396.2" cy="2867.9" r="10.5"/><circle cx="408.8" cy="2874.2" r="10.5"/><circle cx="512.8" cy="2867.4" r="10.5"/><circle cx="465.2" cy="2872.6" r="10.5"/><circle cx="797.0" cy="2617.1" r="10.5"/><circle cx="823.5" cy="2653.6" r="10.5"/><circle cx="858.3" cy="2662.9" r="10.5"/><circle cx="746.2" cy="2660.2" r="10.5"/><circle cx="778.0" cy="2669.5" r="10.5"/><circle cx="793.6" cy="2669.5" r="10.5"/><circle cx="765.4" cy="2678.8" r="10.5"/><circle cx="787.0" cy="2685.4" r="10.5"/><circle cx="777.1" cy="2701.0" r="10.5"/><circle cx="805.3" cy="2699.4" r="10.5"/><circle cx="823.5" cy="2696.7" r="10.5"/><circle cx="818.5" cy="2702.7" r="10.5"/><circle cx="691.4" cy="2667.8" r="10.5"/><circle cx="691.4" cy="2690.1" r="10.5"/><circle cx="626.7" cy="2697.7" r="10.5"/><circle cx="732.3" cy="2699.4" r="10.5"/><circle cx="727.3" cy="2706.0" r="10.5"/><circle cx="711.7" cy="2711.0" r="10.5"/><circle cx="763.8" cy="2725.9" r="10.5"/><circle cx="800.3" cy="2725.9" r="10.5"/><circle cx="813.5" cy="2738.5" r="10.5"/><circle cx="755.5" cy="2748.5" r="10.5"/><circle cx="654.3" cy="2729.9" r="10.5"/><circle cx="675.9" cy="2729.2" r="10.5"/><circle cx="695.8" cy="2727.6" r="10.5"/><circle cx="700.7" cy="2739.2" r="10.5"/><circle cx="730.6" cy="2729.2" r="10.5"/><circle cx="727.3" cy="2744.1" r="10.5"/><circle cx="715.7" cy="2745.8" r="10.5"/><circle cx="655.9" cy="2743.2" r="10.5"/><circle cx="680.8" cy="2744.1" r="10.5"/><circle cx="687.5" cy="2762.4" r="10.5"/><circle cx="703.1" cy="2770.7" r="10.5"/><circle cx="645.3" cy="2764.7" r="10.5"/><circle cx="642.0" cy="2756.4" r="10.5"/><circle cx="622.8" cy="2747.5" r="10.5"/><circle cx="587.9" cy="2735.9" r="10.5"/><circle cx="582.9" cy="2752.4" r="10.5"/><circle cx="596.2" cy="2752.4" r="10.5"/><circle cx="561.4" cy="2756.4" r="10.5"/><circle cx="524.9" cy="2754.1" r="10.5"/><circle cx="573.0" cy="2774.0" r="10.5"/><circle cx="576.3" cy="2782.3" r="10.5"/><circle cx="619.4" cy="2762.4" r="10.5"/><circle cx="609.5" cy="2770.7" r="10.5"/><circle cx="616.1" cy="2779.0" r="10.5"/><circle cx="622.8" cy="2787.3" r="10.5"/><circle cx="599.5" cy="2793.9" r="10.5"/><circle cx="564.7" cy="2793.9" r="10.5"/><circle cx="548.1" cy="2797.2" r="10.5"/><circle cx="526.5" cy="2793.9" r="10.5"/><circle cx="549.8" cy="2803.9" r="10.5"/><circle cx="596.2" cy="2807.2" r="10.5"/><circle cx="607.8" cy="2809.5" r="10.5"/><circle cx="505.0" cy="2825.4" r="10.5"/><circle cx="546.5" cy="2822.1" r="10.5"/><circle cx="563.0" cy="2817.1" r="10.5"/><circle cx="579.6" cy="2830.4" r="10.5"/><circle cx="592.9" cy="2820.5" r="10.5"/></g><line x1="179.7" y1="2873.9" x2="857.7" y2="2327.9" stroke="#1414b4" stroke-width="1.5"/><rect x="179.7" y="2327.9" width="678.0" height="546.0" fill="none" stroke="#000" stroke-width="6.5"/><line x1="179.7" y1="2873.9" x2="179.7" y2="2885.4" stroke="#000" stroke-width="6.5"/><line x1="221.0" y1="2873.9" x2="221.0" y2="2878.9" stroke="#000" stroke-width="6.5"/><line x1="262.4" y1="2873.9" x2="262.4" y2="2885.4" stroke="#000" stroke-width="6.5"/><line x1="303.7" y1="2873.9" x2="303.7" y2="2878.9" stroke="#000" stroke-width="6.5"/><line x1="345.1" y1="2873.9" x2="345.1" y2="2885.4" stroke="#000" stroke-width="6.5"/><line x1="386.4" y1="2873.9" x2="386.4" y2="2878.9" stroke="#000" stroke-width="6.5"/><line x1="427.7" y1="2873.9" x2="427.7" y2="2885.4" stroke="#000" stroke-width="6.5"/><line x1="469.1" y1="2873.9" x2="469.1" y2="2878.9" stroke="#000" stroke-width="6.5"/><line x1="510.4" y1="2873.9" x2="510.4" y2="2885.4" stroke="#000" stroke-width="6.5"/><line x1="551.8" y1="2873.9" x2="551.8" y2="2878.9" stroke="#000" stroke-width="6.5"/><line x1="593.1" y1="2873.9" x2="593.1" y2="2885.4" stroke="#000" stroke-width="6.5"/><line x1="634.5" y1="2873.9" x2="634.5" y2="2878.9" stroke="#000" stroke-width="6.5"/><line x1="675.8" y1="2873.9" x2="675.8" y2="2885.4" stroke="#000" stroke-width="6.5"/><line x1="717.1" y1="2873.9" x2="717.1" y2="2878.9" stroke="#000" stroke-width="6.5"/><line x1="758.5" y1="2873.9" x2="758.5" y2="2885.4" stroke="#000" stroke-width="6.5"/><line x1="799.8" y1="2873.9" x2="799.8" y2="2878.9" stroke="#000" stroke-width="6.5"/><line x1="841.2" y1="2873.9" x2="841.2" y2="2885.4" stroke="#000" stroke-width="6.5"/><line x1="179.7" y1="2873.9" x2="168.2" y2="2873.9" stroke="#000" stroke-width="6.5"/><line x1="179.7" y1="2840.6" x2="174.7" y2="2840.6" stroke="#000" stroke-width="6.5"/><line x1="179.7" y1="2807.3" x2="168.2" y2="2807.3" stroke="#000" stroke-width="6.5"/><line x1="179.7" y1="2774.0" x2="174.7" y2="2774.0" stroke="#000" stroke-width="6.5"/><line x1="179.7" y1="2740.7" x2="168.2" y2="2740.7" stroke="#000" stroke-width="6.5"/><line x1="179.7" y1="2707.4" x2="174.7" y2="2707.4" stroke="#000" stroke-width="6.5"/><line x1="179.7" y1="2674.1" x2="168.2" y2="2674.1" stroke="#000" stroke-width="6.5"/><line x1="179.7" y1="2640.9" x2="174.7" y2="2640.9" stroke="#000" stroke-width="6.5"/><line x1="179.7" y1="2607.6" x2="168.2" y2="2607.6" stroke="#000" stroke-width="6.5"/><line x1="179.7" y1="2574.3" x2="174.7" y2="2574.3" stroke="#000" stroke-width="6.5"/><line x1="179.7" y1="2541.0" x2="168.2" y2="2541.0" stroke="#000" stroke-width="6.5"/><line x1="179.7" y1="2507.7" x2="174.7" y2="2507.7" stroke="#000" stroke-width="6.5"/><line x1="179.7" y1="2474.4" x2="168.2" y2="2474.4" stroke="#000" stroke-width="6.5"/><line x1="179.7" y1="2441.1" x2="174.7" y2="2441.1" stroke="#000" stroke-width="6.5"/><line x1="179.7" y1="2407.8" x2="168.2" y2="2407.8" stroke="#000" stroke-width="6.5"/><line x1="179.7" y1="2374.5" x2="174.7" y2="2374.5" stroke="#000" stroke-width="6.5"/><line x1="179.7" y1="2341.2" x2="168.2" y2="2341.2" stroke="#000" stroke-width="6.5"/><g font-family="'Liberation Sans', Arial, sans-serif" font-weight="bold" font-size="34.3" fill="#000"><text x="179.7" y="2918.9" text-anchor="middle">0</text><text x="262.4" y="2918.9" text-anchor="middle">5</text><text x="345.1" y="2918.9" text-anchor="middle">10</text><text x="427.7" y="2918.9" text-anchor="middle">15</text><text x="510.4" y="2918.9" text-anchor="middle">20</text><text x="593.1" y="2918.9" text-anchor="middle">25</text><text x="675.8" y="2918.9" text-anchor="middle">30</text><text x="758.5" y="2918.9" text-anchor="middle">35</text><text x="841.2" y="2918.9" text-anchor="middle">40</text><text x="160.9" y="2884.2" text-anchor="end">0</text><text x="160.9" y="2817.6" text-anchor="end">5</text><text x="160.9" y="2751.0" text-anchor="end">10</text><text x="160.9" y="2684.4" text-anchor="end">15</text><text x="160.9" y="2617.9" text-anchor="end">20</text><text x="160.9" y="2551.3" text-anchor="end">25</text><text x="160.9" y="2484.7" text-anchor="end">30</text><text x="160.9" y="2418.1" text-anchor="end">35</text><text x="160.9" y="2351.5" text-anchor="end">40</text></g><text x="337.40" y="2977.72" font-family="'Liberation Sans', Arial, sans-serif" font-weight="bold" font-size="40.14"><tspan>O</tspan><tspan font-size="27.3" font-weight="bold" dy="10.8">3</tspan><tspan dy="-10.8"> Reference (ppb)</tspan></text><text transform="translate(96.19,2836.80) rotate(-90)" font-family="'Liberation Sans', Arial, sans-serif" font-weight="bold" font-size="47.51"><tspan>O</tspan><tspan font-size="31.1" font-weight="normal" dy="11.1">3</tspan><tspan dy="-11.1"> (sensor 1) (ppb)</tspan></text></g>
<g><clipPath id="c7"><rect x="1183.8" y="2326.4" width="679.3" height="547.1"/></clipPath><g clip-path="url(#c7)" fill="#00ffff" stroke="#ee0000" stroke-width="3.0"><circle cx="1402.8" cy="2870.2" r="10.5"/><circle cx="1487.3" cy="2870.2" r="10.5"/><circle cx="1508.3" cy="2868.0" r="10.5"/><circle cx="1512.7" cy="2873.5" r="10.5"/><circle cx="1530.0" cy="2860.3" r="10.5"/><circle cx="1566.9" cy="2874.7" r="10.5"/><circle cx="1574.7" cy="2871.3" r="10.5"/><circle cx="1587.5" cy="2865.4" r="10.5"/><circle cx="1594.1" cy="2847.0" r="10.5"/><circle cx="1616.2" cy="2843.6" r="10.5"/><circle cx="1611.8" cy="2869.7" r="10.5"/><circle cx="1378.6" cy="2878.5" r="10.5"/><circle cx="1802.1" cy="2748.3" r="10.5"/><circle cx="1771.2" cy="2770.2" r="10.5"/><circle cx="1828.9" cy="2780.2" r="10.5"/><circle cx="1784.1" cy="2788.9" r="10.5"/><circle cx="1697.1" cy="2793.1" r="10.5"/><circle cx="1696.6" cy="2803.1" r="10.5"/><circle cx="1727.4" cy="2794.4" r="10.5"/><circle cx="1751.8" cy="2795.6" r="10.5"/><circle cx="1770.5" cy="2795.6" r="10.5"/><circle cx="1863.8" cy="2796.9" r="10.5"/><circle cx="1792.9" cy="2811.8" r="10.5"/><circle cx="1811.5" cy="2819.3" r="10.5"/><circle cx="1824.0" cy="2810.1" r="10.5"/><circle cx="1828.4" cy="2816.8" r="10.5"/><circle cx="1782.2" cy="2824.2" r="10.5"/><circle cx="1799.1" cy="2824.2" r="10.5"/><circle cx="1718.2" cy="2824.2" r="10.5"/><circle cx="1717.0" cy="2837.9" r="10.5"/><circle cx="1735.6" cy="2834.2" r="10.5"/><circle cx="1731.9" cy="2842.9" r="10.5"/><circle cx="1631.1" cy="2832.9" r="10.5"/><circle cx="1660.2" cy="2840.4" r="10.5"/><circle cx="1683.4" cy="2853.6" r="10.5"/><circle cx="1716.5" cy="2862.1" r="10.5"/><circle cx="1704.5" cy="2875.3" r="10.5"/><circle cx="1735.6" cy="2874.0" r="10.5"/><circle cx="1760.5" cy="2864.1" r="10.5"/><circle cx="1769.2" cy="2870.3" r="10.5"/><circle cx="1806.0" cy="2860.3" r="10.5"/><circle cx="1677.1" cy="2877.0" r="10.5"/></g><line x1="1183.8" y1="2873.5" x2="1863.1" y2="2326.4" stroke="#1414b4" stroke-width="1.5"/><rect x="1183.8" y="2326.4" width="679.3" height="547.1" fill="none" stroke="#000" stroke-width="6.5"/><line x1="1183.8" y1="2873.5" x2="1183.8" y2="2885.0" stroke="#000" stroke-width="6.5"/><line x1="1225.2" y1="2873.5" x2="1225.2" y2="2878.5" stroke="#000" stroke-width="6.5"/><line x1="1266.6" y1="2873.5" x2="1266.6" y2="2885.0" stroke="#000" stroke-width="6.5"/><line x1="1308.1" y1="2873.5" x2="1308.1" y2="2878.5" stroke="#000" stroke-width="6.5"/><line x1="1349.5" y1="2873.5" x2="1349.5" y2="2885.0" stroke="#000" stroke-width="6.5"/><line x1="1390.9" y1="2873.5" x2="1390.9" y2="2878.5" stroke="#000" stroke-width="6.5"/><line x1="1432.3" y1="2873.5" x2="1432.3" y2="2885.0" stroke="#000" stroke-width="6.5"/><line x1="1473.7" y1="2873.5" x2="1473.7" y2="2878.5" stroke="#000" stroke-width="6.5"/><line x1="1515.2" y1="2873.5" x2="1515.2" y2="2885.0" stroke="#000" stroke-width="6.5"/><line x1="1556.6" y1="2873.5" x2="1556.6" y2="2878.5" stroke="#000" stroke-width="6.5"/><line x1="1598.0" y1="2873.5" x2="1598.0" y2="2885.0" stroke="#000" stroke-width="6.5"/><line x1="1639.4" y1="2873.5" x2="1639.4" y2="2878.5" stroke="#000" stroke-width="6.5"/><line x1="1680.8" y1="2873.5" x2="1680.8" y2="2885.0" stroke="#000" stroke-width="6.5"/><line x1="1722.3" y1="2873.5" x2="1722.3" y2="2878.5" stroke="#000" stroke-width="6.5"/><line x1="1763.7" y1="2873.5" x2="1763.7" y2="2885.0" stroke="#000" stroke-width="6.5"/><line x1="1805.1" y1="2873.5" x2="1805.1" y2="2878.5" stroke="#000" stroke-width="6.5"/><line x1="1846.5" y1="2873.5" x2="1846.5" y2="2885.0" stroke="#000" stroke-width="6.5"/><line x1="1183.8" y1="2873.5" x2="1172.3" y2="2873.5" stroke="#000" stroke-width="6.5"/><line x1="1183.8" y1="2840.1" x2="1178.8" y2="2840.1" stroke="#000" stroke-width="6.5"/><line x1="1183.8" y1="2806.8" x2="1172.3" y2="2806.8" stroke="#000" stroke-width="6.5"/><line x1="1183.8" y1="2773.4" x2="1178.8" y2="2773.4" stroke="#000" stroke-width="6.5"/><line x1="1183.8" y1="2740.1" x2="1172.3" y2="2740.1" stroke="#000" stroke-width="6.5"/><line x1="1183.8" y1="2706.7" x2="1178.8" y2="2706.7" stroke="#000" stroke-width="6.5"/><line x1="1183.8" y1="2673.3" x2="1172.3" y2="2673.3" stroke="#000" stroke-width="6.5"/><line x1="1183.8" y1="2640.0" x2="1178.8" y2="2640.0" stroke="#000" stroke-width="6.5"/><line x1="1183.8" y1="2606.6" x2="1172.3" y2="2606.6" stroke="#000" stroke-width="6.5"/><line x1="1183.8" y1="2573.3" x2="1178.8" y2="2573.3" stroke="#000" stroke-width="6.5"/><line x1="1183.8" y1="2539.9" x2="1172.3" y2="2539.9" stroke="#000" stroke-width="6.5"/><line x1="1183.8" y1="2506.5" x2="1178.8" y2="2506.5" stroke="#000" stroke-width="6.5"/><line x1="1183.8" y1="2473.2" x2="1172.3" y2="2473.2" stroke="#000" stroke-width="6.5"/><line x1="1183.8" y1="2439.8" x2="1178.8" y2="2439.8" stroke="#000" stroke-width="6.5"/><line x1="1183.8" y1="2406.5" x2="1172.3" y2="2406.5" stroke="#000" stroke-width="6.5"/><line x1="1183.8" y1="2373.1" x2="1178.8" y2="2373.1" stroke="#000" stroke-width="6.5"/><line x1="1183.8" y1="2339.7" x2="1172.3" y2="2339.7" stroke="#000" stroke-width="6.5"/><g font-family="'Liberation Sans', Arial, sans-serif" font-weight="bold" font-size="34.3" fill="#000"><text x="1183.8" y="2918.5" text-anchor="middle">0</text><text x="1266.6" y="2918.5" text-anchor="middle">5</text><text x="1349.5" y="2918.5" text-anchor="middle">10</text><text x="1432.3" y="2918.5" text-anchor="middle">15</text><text x="1515.2" y="2918.5" text-anchor="middle">20</text><text x="1598.0" y="2918.5" text-anchor="middle">25</text><text x="1680.8" y="2918.5" text-anchor="middle">30</text><text x="1763.7" y="2918.5" text-anchor="middle">35</text><text x="1846.5" y="2918.5" text-anchor="middle">40</text><text x="1165.0" y="2883.8" text-anchor="end">0</text><text x="1165.0" y="2817.1" text-anchor="end">5</text><text x="1165.0" y="2750.4" text-anchor="end">10</text><text x="1165.0" y="2683.6" text-anchor="end">15</text><text x="1165.0" y="2616.9" text-anchor="end">20</text><text x="1165.0" y="2550.2" text-anchor="end">25</text><text x="1165.0" y="2483.5" text-anchor="end">30</text><text x="1165.0" y="2416.8" text-anchor="end">35</text><text x="1165.0" y="2350.0" text-anchor="end">40</text></g><text x="1342.60" y="2977.12" font-family="'Liberation Sans', Arial, sans-serif" font-weight="bold" font-size="39.99"><tspan>O</tspan><tspan font-size="27.2" font-weight="bold" dy="10.8">3</tspan><tspan dy="-10.8"> Reference (ppb)</tspan></text><text transform="translate(1096.01,2835.80) rotate(-90)" font-family="'Liberation Sans', Arial, sans-serif" font-weight="bold" font-size="47.24"><tspan>O</tspan><tspan font-size="30.9" font-weight="normal" dy="11.0">3</tspan><tspan dy="-11.0"> (sensor 2) (ppb)</tspan></text></g>
<g><clipPath id="c8"><rect x="179.7" y="3090.8" width="682.3" height="548.7"/></clipPath><g clip-path="url(#c8)" fill="#00ffff" stroke="#ee0000" stroke-width="3.0"><circle cx="412.2" cy="3400.4" r="10.5"/><circle cx="412.2" cy="3413.5" r="10.5"/><circle cx="445.0" cy="3393.1" r="10.5"/><circle cx="460.1" cy="3395.1" r="10.5"/><circle cx="474.2" cy="3401.7" r="10.5"/><circle cx="490.1" cy="3403.1" r="10.5"/><circle cx="496.0" cy="3421.9" r="10.5"/><circle cx="516.8" cy="3381.5" r="10.5"/><circle cx="517.3" cy="3425.4" r="10.5"/><circle cx="456.4" cy="3413.8" r="10.5"/><circle cx="345.1" cy="3418.3" r="10.5"/><circle cx="348.7" cy="3424.3" r="10.5"/><circle cx="375.0" cy="3424.3" r="10.5"/><circle cx="339.1" cy="3441.1" r="10.5"/><circle cx="376.2" cy="3443.5" r="10.5"/><circle cx="322.8" cy="3456.2" r="10.5"/><circle cx="408.6" cy="3447.1" r="10.5"/><circle cx="434.9" cy="3438.7" r="10.5"/><circle cx="445.8" cy="3433.9" r="10.5"/><circle cx="457.7" cy="3454.3" r="10.5"/><circle cx="341.5" cy="3467.5" r="10.5"/><circle cx="366.6" cy="3466.3" r="10.5"/><circle cx="377.4" cy="3465.1" r="10.5"/><circle cx="377.4" cy="3475.9" r="10.5"/><circle cx="348.7" cy="3478.2" r="10.5"/><circle cx="396.6" cy="3472.3" r="10.5"/><circle cx="415.8" cy="3467.5" r="10.5"/><circle cx="432.5" cy="3462.7" r="10.5"/><circle cx="434.9" cy="3472.3" r="10.5"/><circle cx="457.7" cy="3472.3" r="10.5"/><circle cx="458.9" cy="3478.2" r="10.5"/><circle cx="490.0" cy="3471.1" r="10.5"/><circle cx="481.7" cy="3485.4" r="10.5"/><circle cx="323.5" cy="3484.2" r="10.5"/><circle cx="359.4" cy="3490.2" r="10.5"/><circle cx="402.6" cy="3485.4" r="10.5"/><circle cx="426.5" cy="3491.4" r="10.5"/><circle cx="337.9" cy="3502.2" r="10.5"/><circle cx="359.4" cy="3503.4" r="10.5"/><circle cx="316.3" cy="3509.4" r="10.5"/><circle cx="303.1" cy="3514.2" r="10.5"/><circle cx="395.4" cy="3507.0" r="10.5"/><circle cx="403.8" cy="3511.8" r="10.5"/><circle cx="430.1" cy="3509.4" r="10.5"/><circle cx="457.7" cy="3501.0" r="10.5"/><circle cx="275.6" cy="3525.0" r="10.5"/><circle cx="300.7" cy="3523.8" r="10.5"/><circle cx="319.9" cy="3531.0" r="10.5"/><circle cx="343.9" cy="3529.8" r="10.5"/><circle cx="365.4" cy="3521.4" r="10.5"/><circle cx="376.2" cy="3520.9" r="10.5"/><circle cx="422.9" cy="3526.7" r="10.5"/><circle cx="281.6" cy="3545.3" r="10.5"/><circle cx="299.5" cy="3545.3" r="10.5"/><circle cx="322.3" cy="3550.1" r="10.5"/><circle cx="352.3" cy="3550.1" r="10.5"/><circle cx="358.2" cy="3547.7" r="10.5"/><circle cx="315.1" cy="3535.8" r="10.5"/><circle cx="307.9" cy="3499.8" r="10.5"/><circle cx="578.0" cy="3239.6" r="10.5"/><circle cx="697.2" cy="3252.3" r="10.5"/><circle cx="666.5" cy="3268.2" r="10.5"/><circle cx="727.6" cy="3278.0" r="10.5"/><circle cx="726.1" cy="3294.2" r="10.5"/><circle cx="563.9" cy="3302.2" r="10.5"/><circle cx="586.6" cy="3311.0" r="10.5"/><circle cx="518.7" cy="3334.6" r="10.5"/><circle cx="557.1" cy="3347.6" r="10.5"/><circle cx="572.1" cy="3359.7" r="10.5"/><circle cx="594.0" cy="3360.6" r="10.5"/><circle cx="686.3" cy="3363.5" r="10.5"/><circle cx="749.7" cy="3351.7" r="10.5"/><circle cx="551.5" cy="3387.7" r="10.5"/><circle cx="552.1" cy="3395.9" r="10.5"/><circle cx="556.5" cy="3418.1" r="10.5"/><circle cx="530.0" cy="3418.7" r="10.5"/><circle cx="608.4" cy="3479.9" r="10.5"/></g><line x1="179.7" y1="3639.5" x2="862.0" y2="3090.8" stroke="#1414b4" stroke-width="1.5"/><rect x="179.7" y="3090.8" width="682.3" height="548.7" fill="none" stroke="#000" stroke-width="6.5"/><line x1="179.7" y1="3639.5" x2="179.7" y2="3651.0" stroke="#000" stroke-width="6.5"/><line x1="234.3" y1="3639.5" x2="234.3" y2="3644.5" stroke="#000" stroke-width="6.5"/><line x1="288.9" y1="3639.5" x2="288.9" y2="3651.0" stroke="#000" stroke-width="6.5"/><line x1="343.5" y1="3639.5" x2="343.5" y2="3644.5" stroke="#000" stroke-width="6.5"/><line x1="398.0" y1="3639.5" x2="398.0" y2="3651.0" stroke="#000" stroke-width="6.5"/><line x1="452.6" y1="3639.5" x2="452.6" y2="3644.5" stroke="#000" stroke-width="6.5"/><line x1="507.2" y1="3639.5" x2="507.2" y2="3651.0" stroke="#000" stroke-width="6.5"/><line x1="561.8" y1="3639.5" x2="561.8" y2="3644.5" stroke="#000" stroke-width="6.5"/><line x1="616.4" y1="3639.5" x2="616.4" y2="3651.0" stroke="#000" stroke-width="6.5"/><line x1="671.0" y1="3639.5" x2="671.0" y2="3644.5" stroke="#000" stroke-width="6.5"/><line x1="725.5" y1="3639.5" x2="725.5" y2="3651.0" stroke="#000" stroke-width="6.5"/><line x1="780.1" y1="3639.5" x2="780.1" y2="3644.5" stroke="#000" stroke-width="6.5"/><line x1="834.7" y1="3639.5" x2="834.7" y2="3651.0" stroke="#000" stroke-width="6.5"/><line x1="179.7" y1="3639.5" x2="168.2" y2="3639.5" stroke="#000" stroke-width="6.5"/><line x1="179.7" y1="3595.6" x2="174.7" y2="3595.6" stroke="#000" stroke-width="6.5"/><line x1="179.7" y1="3551.7" x2="168.2" y2="3551.7" stroke="#000" stroke-width="6.5"/><line x1="179.7" y1="3507.8" x2="174.7" y2="3507.8" stroke="#000" stroke-width="6.5"/><line x1="179.7" y1="3463.9" x2="168.2" y2="3463.9" stroke="#000" stroke-width="6.5"/><line x1="179.7" y1="3420.0" x2="174.7" y2="3420.0" stroke="#000" stroke-width="6.5"/><line x1="179.7" y1="3376.1" x2="168.2" y2="3376.1" stroke="#000" stroke-width="6.5"/><line x1="179.7" y1="3332.2" x2="174.7" y2="3332.2" stroke="#000" stroke-width="6.5"/><line x1="179.7" y1="3288.3" x2="168.2" y2="3288.3" stroke="#000" stroke-width="6.5"/><line x1="179.7" y1="3244.4" x2="174.7" y2="3244.4" stroke="#000" stroke-width="6.5"/><line x1="179.7" y1="3200.5" x2="168.2" y2="3200.5" stroke="#000" stroke-width="6.5"/><line x1="179.7" y1="3156.6" x2="174.7" y2="3156.6" stroke="#000" stroke-width="6.5"/><line x1="179.7" y1="3112.7" x2="168.2" y2="3112.7" stroke="#000" stroke-width="6.5"/><g font-family="'Liberation Sans', Arial, sans-serif" font-weight="bold" font-size="34.3" fill="#000"><text x="179.7" y="3684.5" text-anchor="middle">0</text><text x="288.9" y="3684.5" text-anchor="middle">400</text><text x="398.0" y="3684.5" text-anchor="middle">800</text><text x="507.2" y="3684.5" text-anchor="middle">1200</text><text x="616.4" y="3684.5" text-anchor="middle">1600</text><text x="725.5" y="3684.5" text-anchor="middle">2000</text><text x="834.7" y="3684.5" text-anchor="middle">2400</text><text x="160.9" y="3649.8" text-anchor="end">0</text><text x="160.9" y="3562.0" text-anchor="end">400</text><text x="160.9" y="3474.2" text-anchor="end">800</text><text x="160.9" y="3386.4" text-anchor="end">1200</text><text x="160.9" y="3298.6" text-anchor="end">1600</text><text x="160.9" y="3210.8" text-anchor="end">2000</text><text x="160.9" y="3123.0" text-anchor="end">2400</text></g><text x="318.70" y="3743.87" font-family="'Liberation Sans', Arial, sans-serif" font-weight="bold" font-size="40.32"><tspan>CO</tspan><tspan font-size="27.4" font-weight="bold" dy="10.9">2</tspan><tspan dy="-10.9"> Reference (ppm)</tspan></text><text transform="translate(56.74,3611.20) rotate(-90)" font-family="'Liberation Sans', Arial, sans-serif" font-weight="bold" font-size="47.68"><tspan>CO</tspan><tspan font-size="31.2" font-weight="normal" dy="11.1">2</tspan><tspan dy="-11.1"> (sensor 1) (ppm)</tspan></text></g>
<g><clipPath id="c9"><rect x="1182.5" y="3088.8" width="683.0" height="549.8"/></clipPath><g clip-path="url(#c9)" fill="#00ffff" stroke="#ee0000" stroke-width="3.0"><circle cx="1415.3" cy="3415.9" r="10.5"/><circle cx="1437.3" cy="3421.9" r="10.5"/><circle cx="1462.9" cy="3417.6" r="10.5"/><circle cx="1476.9" cy="3422.8" r="10.5"/><circle cx="1499.3" cy="3420.6" r="10.5"/><circle cx="1492.4" cy="3427.9" r="10.5"/><circle cx="1519.0" cy="3404.1" r="10.5"/><circle cx="1519.3" cy="3426.1" r="10.5"/><circle cx="1458.9" cy="3433.4" r="10.5"/><circle cx="1448.1" cy="3444.7" r="10.5"/><circle cx="1341.5" cy="3432.7" r="10.5"/><circle cx="1379.8" cy="3433.9" r="10.5"/><circle cx="1325.2" cy="3442.8" r="10.5"/><circle cx="1351.1" cy="3448.3" r="10.5"/><circle cx="1378.6" cy="3451.9" r="10.5"/><circle cx="1379.8" cy="3460.3" r="10.5"/><circle cx="1351.1" cy="3457.9" r="10.5"/><circle cx="1411.4" cy="3444.7" r="10.5"/><circle cx="1406.2" cy="3453.1" r="10.5"/><circle cx="1436.1" cy="3463.9" r="10.5"/><circle cx="1418.2" cy="3463.9" r="10.5"/><circle cx="1460.8" cy="3472.3" r="10.5"/><circle cx="1327.1" cy="3475.9" r="10.5"/><circle cx="1343.9" cy="3471.1" r="10.5"/><circle cx="1370.2" cy="3478.2" r="10.5"/><circle cx="1403.8" cy="3472.3" r="10.5"/><circle cx="1396.6" cy="3485.4" r="10.5"/><circle cx="1425.3" cy="3473.5" r="10.5"/><circle cx="1415.8" cy="3483.0" r="10.5"/><circle cx="1321.1" cy="3495.0" r="10.5"/><circle cx="1340.3" cy="3497.4" r="10.5"/><circle cx="1363.0" cy="3496.2" r="10.5"/><circle cx="1381.0" cy="3503.4" r="10.5"/><circle cx="1403.8" cy="3497.4" r="10.5"/><circle cx="1418.2" cy="3502.2" r="10.5"/><circle cx="1430.1" cy="3501.0" r="10.5"/><circle cx="1438.5" cy="3493.8" r="10.5"/><circle cx="1460.1" cy="3501.0" r="10.5"/><circle cx="1484.1" cy="3499.8" r="10.5"/><circle cx="1496.0" cy="3499.8" r="10.5"/><circle cx="1460.8" cy="3516.1" r="10.5"/><circle cx="1306.7" cy="3514.2" r="10.5"/><circle cx="1321.1" cy="3515.4" r="10.5"/><circle cx="1354.7" cy="3516.6" r="10.5"/><circle cx="1304.3" cy="3528.6" r="10.5"/><circle cx="1278.0" cy="3531.0" r="10.5"/><circle cx="1324.7" cy="3526.2" r="10.5"/><circle cx="1347.5" cy="3534.6" r="10.5"/><circle cx="1378.6" cy="3525.0" r="10.5"/><circle cx="1369.0" cy="3531.0" r="10.5"/><circle cx="1397.8" cy="3531.0" r="10.5"/><circle cx="1407.4" cy="3535.8" r="10.5"/><circle cx="1433.7" cy="3526.2" r="10.5"/><circle cx="1425.3" cy="3541.8" r="10.5"/><circle cx="1321.1" cy="3538.2" r="10.5"/><circle cx="1284.0" cy="3551.3" r="10.5"/><circle cx="1301.9" cy="3552.5" r="10.5"/><circle cx="1313.9" cy="3547.7" r="10.5"/><circle cx="1358.2" cy="3555.5" r="10.5"/><circle cx="1331.9" cy="3556.1" r="10.5"/><circle cx="1581.0" cy="3253.8" r="10.5"/><circle cx="1670.0" cy="3307.5" r="10.5"/><circle cx="1700.4" cy="3305.4" r="10.5"/><circle cx="1731.1" cy="3311.9" r="10.5"/><circle cx="1729.9" cy="3325.2" r="10.5"/><circle cx="1567.7" cy="3335.5" r="10.5"/><circle cx="1589.8" cy="3328.1" r="10.5"/><circle cx="1560.3" cy="3349.6" r="10.5"/><circle cx="1522.0" cy="3364.4" r="10.5"/><circle cx="1689.8" cy="3387.1" r="10.5"/><circle cx="1752.6" cy="3381.8" r="10.5"/><circle cx="1575.7" cy="3394.5" r="10.5"/><circle cx="1597.2" cy="3394.5" r="10.5"/><circle cx="1555.0" cy="3418.7" r="10.5"/><circle cx="1533.8" cy="3434.3" r="10.5"/><circle cx="1559.4" cy="3440.2" r="10.5"/><circle cx="1611.5" cy="3494.3" r="10.5"/></g><line x1="1182.5" y1="3638.6" x2="1865.5" y2="3088.8" stroke="#1414b4" stroke-width="1.5"/><rect x="1182.5" y="3088.8" width="683.0" height="549.8" fill="none" stroke="#000" stroke-width="6.5"/><line x1="1182.5" y1="3638.6" x2="1182.5" y2="3650.1" stroke="#000" stroke-width="6.5"/><line x1="1237.1" y1="3638.6" x2="1237.1" y2="3643.6" stroke="#000" stroke-width="6.5"/><line x1="1291.8" y1="3638.6" x2="1291.8" y2="3650.1" stroke="#000" stroke-width="6.5"/><line x1="1346.4" y1="3638.6" x2="1346.4" y2="3643.6" stroke="#000" stroke-width="6.5"/><line x1="1401.1" y1="3638.6" x2="1401.1" y2="3650.1" stroke="#000" stroke-width="6.5"/><line x1="1455.7" y1="3638.6" x2="1455.7" y2="3643.6" stroke="#000" stroke-width="6.5"/><line x1="1510.3" y1="3638.6" x2="1510.3" y2="3650.1" stroke="#000" stroke-width="6.5"/><line x1="1565.0" y1="3638.6" x2="1565.0" y2="3643.6" stroke="#000" stroke-width="6.5"/><line x1="1619.6" y1="3638.6" x2="1619.6" y2="3650.1" stroke="#000" stroke-width="6.5"/><line x1="1674.3" y1="3638.6" x2="1674.3" y2="3643.6" stroke="#000" stroke-width="6.5"/><line x1="1728.9" y1="3638.6" x2="1728.9" y2="3650.1" stroke="#000" stroke-width="6.5"/><line x1="1783.5" y1="3638.6" x2="1783.5" y2="3643.6" stroke="#000" stroke-width="6.5"/><line x1="1838.2" y1="3638.6" x2="1838.2" y2="3650.1" stroke="#000" stroke-width="6.5"/><line x1="1182.5" y1="3638.6" x2="1171.0" y2="3638.6" stroke="#000" stroke-width="6.5"/><line x1="1182.5" y1="3594.6" x2="1177.5" y2="3594.6" stroke="#000" stroke-width="6.5"/><line x1="1182.5" y1="3550.6" x2="1171.0" y2="3550.6" stroke="#000" stroke-width="6.5"/><line x1="1182.5" y1="3506.6" x2="1177.5" y2="3506.6" stroke="#000" stroke-width="6.5"/><line x1="1182.5" y1="3462.7" x2="1171.0" y2="3462.7" stroke="#000" stroke-width="6.5"/><line x1="1182.5" y1="3418.7" x2="1177.5" y2="3418.7" stroke="#000" stroke-width="6.5"/><line x1="1182.5" y1="3374.7" x2="1171.0" y2="3374.7" stroke="#000" stroke-width="6.5"/><line x1="1182.5" y1="3330.7" x2="1177.5" y2="3330.7" stroke="#000" stroke-width="6.5"/><line x1="1182.5" y1="3286.7" x2="1171.0" y2="3286.7" stroke="#000" stroke-width="6.5"/><line x1="1182.5" y1="3242.7" x2="1177.5" y2="3242.7" stroke="#000" stroke-width="6.5"/><line x1="1182.5" y1="3198.8" x2="1171.0" y2="3198.8" stroke="#000" stroke-width="6.5"/><line x1="1182.5" y1="3154.8" x2="1177.5" y2="3154.8" stroke="#000" stroke-width="6.5"/><line x1="1182.5" y1="3110.8" x2="1171.0" y2="3110.8" stroke="#000" stroke-width="6.5"/><g font-family="'Liberation Sans', Arial, sans-serif" font-weight="bold" font-size="34.3" fill="#000"><text x="1182.5" y="3683.6" text-anchor="middle">0</text><text x="1291.8" y="3683.6" text-anchor="middle">400</text><text x="1401.1" y="3683.6" text-anchor="middle">800</text><text x="1510.3" y="3683.6" text-anchor="middle">1200</text><text x="1619.6" y="3683.6" text-anchor="middle">1600</text><text x="1728.9" y="3683.6" text-anchor="middle">2000</text><text x="1838.2" y="3683.6" text-anchor="middle">2400</text><text x="1163.7" y="3648.9" text-anchor="end">0</text><text x="1163.7" y="3560.9" text-anchor="end">400</text><text x="1163.7" y="3473.0" text-anchor="end">800</text><text x="1163.7" y="3385.0" text-anchor="end">1200</text><text x="1163.7" y="3297.0" text-anchor="end">1600</text><text x="1163.7" y="3209.1" text-anchor="end">2000</text><text x="1163.7" y="3121.1" text-anchor="end">2400</text></g><text x="1321.50" y="3743.26" font-family="'Liberation Sans', Arial, sans-serif" font-weight="bold" font-size="40.30"><tspan>CO</tspan><tspan font-size="27.4" font-weight="bold" dy="10.9">2</tspan><tspan dy="-10.9"> Reference (ppm)</tspan></text><text transform="translate(1055.86,3610.20) rotate(-90)" font-family="'Liberation Sans', Arial, sans-serif" font-weight="bold" font-size="47.58"><tspan>CO</tspan><tspan font-size="31.2" font-weight="normal" dy="11.1">2</tspan><tspan dy="-11.1"> (sensor 2) (ppm)</tspan></text></g>
<g><clipPath id="c10"><rect x="180.6" y="3851.2" width="683.9" height="551.9"/></clipPath><g clip-path="url(#c10)" fill="#00ffff" stroke="#ee0000" stroke-width="3.0"><circle cx="320.9" cy="4182.7" r="10.5"/><circle cx="290.2" cy="4196.5" r="10.5"/><circle cx="292.4" cy="4207.6" r="10.5"/><circle cx="310.0" cy="4214.1" r="10.5"/><circle cx="276.8" cy="4217.8" r="10.5"/><circle cx="307.2" cy="4230.7" r="10.5"/><circle cx="315.5" cy="4239.0" r="10.5"/><circle cx="262.9" cy="4239.0" r="10.5"/><circle cx="280.5" cy="4241.8" r="10.5"/><circle cx="285.1" cy="4235.3" r="10.5"/><circle cx="294.3" cy="4252.8" r="10.5"/><circle cx="261.1" cy="4253.7" r="10.5"/><circle cx="215.0" cy="4253.7" r="10.5"/><circle cx="339.4" cy="4262.9" r="10.5"/><circle cx="262.9" cy="4269.4" r="10.5"/><circle cx="274.0" cy="4272.2" r="10.5"/><circle cx="242.7" cy="4275.9" r="10.5"/><circle cx="251.9" cy="4272.2" r="10.5"/><circle cx="294.3" cy="4280.5" r="10.5"/><circle cx="296.1" cy="4288.8" r="10.5"/><circle cx="235.3" cy="4285.1" r="10.5"/><circle cx="246.4" cy="4290.6" r="10.5"/><circle cx="253.7" cy="4294.3" r="10.5"/><circle cx="264.8" cy="4299.8" r="10.5"/><circle cx="264.8" cy="4312.7" r="10.5"/><circle cx="232.5" cy="4307.2" r="10.5"/><circle cx="239.0" cy="4316.4" r="10.5"/><circle cx="189.2" cy="4307.2" r="10.5"/><circle cx="200.3" cy="4321.0" r="10.5"/><circle cx="224.2" cy="4314.6" r="10.5"/><circle cx="216.9" cy="4325.6" r="10.5"/><circle cx="231.6" cy="4325.6" r="10.5"/><circle cx="240.8" cy="4327.5" r="10.5"/><circle cx="199.4" cy="4334.8" r="10.5"/><circle cx="218.7" cy="4336.7" r="10.5"/><circle cx="234.4" cy="4338.5" r="10.5"/><circle cx="261.1" cy="4347.7" r="10.5"/><circle cx="189.2" cy="4353.3" r="10.5"/><circle cx="209.5" cy="4355.1" r="10.5"/><circle cx="204.0" cy="4363.4" r="10.5"/><circle cx="226.1" cy="4353.3" r="10.5"/><circle cx="198.4" cy="4379.1" r="10.5"/><circle cx="209.5" cy="4384.6" r="10.5"/><circle cx="202.1" cy="4375.4" r="10.5"/><circle cx="215.0" cy="4373.5" r="10.5"/><circle cx="311.5" cy="4080.3" r="10.5"/><circle cx="296.4" cy="4122.7" r="10.5"/><circle cx="287.7" cy="4150.4" r="10.5"/><circle cx="340.6" cy="4163.6" r="10.5"/><circle cx="240.8" cy="4275.9" r="10.5"/><circle cx="246.4" cy="4283.2" r="10.5"/><circle cx="257.4" cy="4272.2" r="10.5"/><circle cx="268.5" cy="4277.7" r="10.5"/><circle cx="279.5" cy="4275.9" r="10.5"/><circle cx="253.7" cy="4283.2" r="10.5"/><circle cx="227.9" cy="4299.8" r="10.5"/><circle cx="235.3" cy="4312.7" r="10.5"/><circle cx="244.5" cy="4321.9" r="10.5"/><circle cx="226.1" cy="4320.1" r="10.5"/><circle cx="194.7" cy="4380.9" r="10.5"/><circle cx="205.8" cy="4379.1" r="10.5"/><circle cx="216.9" cy="4382.8" r="10.5"/><circle cx="207.6" cy="4371.7" r="10.5"/><circle cx="283.2" cy="4226.1" r="10.5"/><circle cx="275.9" cy="4235.3" r="10.5"/><circle cx="290.6" cy="4235.3" r="10.5"/><circle cx="298.0" cy="4220.6" r="10.5"/><circle cx="250.0" cy="4257.4" r="10.5"/><circle cx="259.3" cy="4262.9" r="10.5"/><circle cx="268.5" cy="4262.9" r="10.5"/><circle cx="246.4" cy="4266.6" r="10.5"/><circle cx="240.8" cy="4283.2" r="10.5"/><circle cx="257.4" cy="4290.6" r="10.5"/><circle cx="250.0" cy="4299.8" r="10.5"/><circle cx="235.3" cy="4299.8" r="10.5"/><circle cx="240.8" cy="4309.0" r="10.5"/><circle cx="229.8" cy="4320.1" r="10.5"/><circle cx="246.4" cy="4312.7" r="10.5"/><circle cx="253.7" cy="4279.5" r="10.5"/><circle cx="266.6" cy="4283.2" r="10.5"/><circle cx="275.9" cy="4257.4" r="10.5"/><circle cx="283.2" cy="4264.8" r="10.5"/><circle cx="286.9" cy="4253.7" r="10.5"/><circle cx="299.8" cy="4244.5" r="10.5"/><circle cx="294.3" cy="4231.6" r="10.5"/><circle cx="283.2" cy="4213.2" r="10.5"/><circle cx="299.8" cy="4207.6" r="10.5"/></g><line x1="180.6" y1="4403.1" x2="864.5" y2="3851.2" stroke="#1414b4" stroke-width="1.5"/><rect x="180.6" y="3851.2" width="683.9" height="551.9" fill="none" stroke="#000" stroke-width="6.5"/><line x1="180.6" y1="4403.1" x2="180.6" y2="4414.6" stroke="#000" stroke-width="6.5"/><line x1="222.3" y1="4403.1" x2="222.3" y2="4408.1" stroke="#000" stroke-width="6.5"/><line x1="264.0" y1="4403.1" x2="264.0" y2="4414.6" stroke="#000" stroke-width="6.5"/><line x1="305.7" y1="4403.1" x2="305.7" y2="4408.1" stroke="#000" stroke-width="6.5"/><line x1="347.4" y1="4403.1" x2="347.4" y2="4414.6" stroke="#000" stroke-width="6.5"/><line x1="389.1" y1="4403.1" x2="389.1" y2="4408.1" stroke="#000" stroke-width="6.5"/><line x1="430.8" y1="4403.1" x2="430.8" y2="4414.6" stroke="#000" stroke-width="6.5"/><line x1="472.5" y1="4403.1" x2="472.5" y2="4408.1" stroke="#000" stroke-width="6.5"/><line x1="514.2" y1="4403.1" x2="514.2" y2="4414.6" stroke="#000" stroke-width="6.5"/><line x1="555.9" y1="4403.1" x2="555.9" y2="4408.1" stroke="#000" stroke-width="6.5"/><line x1="597.6" y1="4403.1" x2="597.6" y2="4414.6" stroke="#000" stroke-width="6.5"/><line x1="639.3" y1="4403.1" x2="639.3" y2="4408.1" stroke="#000" stroke-width="6.5"/><line x1="681.0" y1="4403.1" x2="681.0" y2="4414.6" stroke="#000" stroke-width="6.5"/><line x1="722.7" y1="4403.1" x2="722.7" y2="4408.1" stroke="#000" stroke-width="6.5"/><line x1="764.4" y1="4403.1" x2="764.4" y2="4414.6" stroke="#000" stroke-width="6.5"/><line x1="806.1" y1="4403.1" x2="806.1" y2="4408.1" stroke="#000" stroke-width="6.5"/><line x1="847.8" y1="4403.1" x2="847.8" y2="4414.6" stroke="#000" stroke-width="6.5"/><line x1="180.6" y1="4403.1" x2="169.1" y2="4403.1" stroke="#000" stroke-width="6.5"/><line x1="180.6" y1="4369.4" x2="175.6" y2="4369.4" stroke="#000" stroke-width="6.5"/><line x1="180.6" y1="4335.8" x2="169.1" y2="4335.8" stroke="#000" stroke-width="6.5"/><line x1="180.6" y1="4302.1" x2="175.6" y2="4302.1" stroke="#000" stroke-width="6.5"/><line x1="180.6" y1="4268.5" x2="169.1" y2="4268.5" stroke="#000" stroke-width="6.5"/><line x1="180.6" y1="4234.8" x2="175.6" y2="4234.8" stroke="#000" stroke-width="6.5"/><line x1="180.6" y1="4201.2" x2="169.1" y2="4201.2" stroke="#000" stroke-width="6.5"/><line x1="180.6" y1="4167.5" x2="175.6" y2="4167.5" stroke="#000" stroke-width="6.5"/><line x1="180.6" y1="4133.9" x2="169.1" y2="4133.9" stroke="#000" stroke-width="6.5"/><line x1="180.6" y1="4100.2" x2="175.6" y2="4100.2" stroke="#000" stroke-width="6.5"/><line x1="180.6" y1="4066.6" x2="169.1" y2="4066.6" stroke="#000" stroke-width="6.5"/><line x1="180.6" y1="4032.9" x2="175.6" y2="4032.9" stroke="#000" stroke-width="6.5"/><line x1="180.6" y1="3999.3" x2="169.1" y2="3999.3" stroke="#000" stroke-width="6.5"/><line x1="180.6" y1="3965.6" x2="175.6" y2="3965.6" stroke="#000" stroke-width="6.5"/><line x1="180.6" y1="3932.0" x2="169.1" y2="3932.0" stroke="#000" stroke-width="6.5"/><line x1="180.6" y1="3898.3" x2="175.6" y2="3898.3" stroke="#000" stroke-width="6.5"/><line x1="180.6" y1="3864.7" x2="169.1" y2="3864.7" stroke="#000" stroke-width="6.5"/><g font-family="'Liberation Sans', Arial, sans-serif" font-weight="bold" font-size="34.3" fill="#000"><text x="180.6" y="4448.1" text-anchor="middle">0</text><text x="264.0" y="4448.1" text-anchor="middle">5</text><text x="347.4" y="4448.1" text-anchor="middle">10</text><text x="430.8" y="4448.1" text-anchor="middle">15</text><text x="514.2" y="4448.1" text-anchor="middle">20</text><text x="597.6" y="4448.1" text-anchor="middle">25</text><text x="681.0" y="4448.1" text-anchor="middle">30</text><text x="764.4" y="4448.1" text-anchor="middle">35</text><text x="847.8" y="4448.1" text-anchor="middle">40</text><text x="161.8" y="4413.4" text-anchor="end">0</text><text x="161.8" y="4346.1" text-anchor="end">5</text><text x="161.8" y="4278.8" text-anchor="end">10</text><text x="161.8" y="4211.5" text-anchor="end">15</text><text x="161.8" y="4144.2" text-anchor="end">20</text><text x="161.8" y="4076.9" text-anchor="end">25</text><text x="161.8" y="4009.6" text-anchor="end">30</text><text x="161.8" y="3942.3" text-anchor="end">35</text><text x="161.8" y="3875.0" text-anchor="end">40</text></g><text x="287.90" y="4520.17" font-family="'Liberation Sans', Arial, sans-serif" font-weight="bold" font-size="40.62"><tspan>PM</tspan><tspan font-size="27.6" font-weight="bold" dy="11.0">1.0</tspan><tspan dy="-11.0"> Reference (µg m</tspan><tspan font-size="28.4" font-weight="normal" dy="-16.7">-3</tspan><tspan dy="16.7">)</tspan></text><text transform="translate(97.20,4417.60) rotate(-90)" font-family="'Liberation Sans', Arial, sans-serif" font-weight="bold" font-size="47.77"><tspan>PM</tspan><tspan font-size="31.3" font-weight="normal" dy="11.1">2.5</tspan><tspan dy="-11.1"> (sensor 1) (µg m</tspan><tspan font-size="31.3" font-weight="normal" dy="-13.6">−3</tspan><tspan dy="13.6">)</tspan></text></g>
<g><clipPath id="c11"><rect x="1192.0" y="3849.3" width="686.1" height="553.4"/></clipPath><g clip-path="url(#c11)" fill="#00ffff" stroke="#ee0000" stroke-width="3.0"><circle cx="1332.8" cy="4190.1" r="10.5"/><circle cx="1299.8" cy="4197.4" r="10.5"/><circle cx="1303.4" cy="4214.1" r="10.5"/><circle cx="1320.0" cy="4227.0" r="10.5"/><circle cx="1325.5" cy="4239.0" r="10.5"/><circle cx="1308.0" cy="4209.5" r="10.5"/><circle cx="1271.1" cy="4227.9" r="10.5"/><circle cx="1289.5" cy="4228.8" r="10.5"/><circle cx="1272.9" cy="4239.0" r="10.5"/><circle cx="1300.6" cy="4242.7" r="10.5"/><circle cx="1290.5" cy="4251.0" r="10.5"/><circle cx="1272.0" cy="4257.4" r="10.5"/><circle cx="1306.1" cy="4258.3" r="10.5"/><circle cx="1263.7" cy="4261.1" r="10.5"/><circle cx="1225.9" cy="4264.8" r="10.5"/><circle cx="1351.3" cy="4264.8" r="10.5"/><circle cx="1254.5" cy="4281.4" r="10.5"/><circle cx="1285.9" cy="4280.5" r="10.5"/><circle cx="1304.3" cy="4275.9" r="10.5"/><circle cx="1308.0" cy="4289.7" r="10.5"/><circle cx="1245.3" cy="4290.6" r="10.5"/><circle cx="1258.2" cy="4290.6" r="10.5"/><circle cx="1276.6" cy="4301.7" r="10.5"/><circle cx="1275.7" cy="4313.6" r="10.5"/><circle cx="1243.5" cy="4305.3" r="10.5"/><circle cx="1200.1" cy="4310.9" r="10.5"/><circle cx="1211.2" cy="4324.7" r="10.5"/><circle cx="1228.7" cy="4327.5" r="10.5"/><circle cx="1245.3" cy="4323.8" r="10.5"/><circle cx="1252.7" cy="4331.2" r="10.5"/><circle cx="1210.3" cy="4338.5" r="10.5"/><circle cx="1230.6" cy="4342.2" r="10.5"/><circle cx="1246.2" cy="4335.8" r="10.5"/><circle cx="1201.1" cy="4353.3" r="10.5"/><circle cx="1272.0" cy="4351.4" r="10.5"/><circle cx="1215.8" cy="4361.6" r="10.5"/><circle cx="1225.0" cy="4359.7" r="10.5"/><circle cx="1210.3" cy="4380.9" r="10.5"/><circle cx="1220.4" cy="4384.6" r="10.5"/><circle cx="1212.1" cy="4390.1" r="10.5"/><circle cx="1323.3" cy="4086.2" r="10.5"/><circle cx="1308.2" cy="4131.0" r="10.5"/><circle cx="1299.9" cy="4142.1" r="10.5"/><circle cx="1352.8" cy="4162.7" r="10.5"/><circle cx="1250.8" cy="4275.9" r="10.5"/><circle cx="1260.0" cy="4268.5" r="10.5"/><circle cx="1272.9" cy="4268.5" r="10.5"/><circle cx="1282.2" cy="4272.2" r="10.5"/><circle cx="1293.2" cy="4266.6" r="10.5"/><circle cx="1267.4" cy="4283.2" r="10.5"/><circle cx="1237.9" cy="4299.8" r="10.5"/><circle cx="1245.3" cy="4312.7" r="10.5"/><circle cx="1254.5" cy="4320.1" r="10.5"/><circle cx="1236.1" cy="4320.1" r="10.5"/><circle cx="1204.7" cy="4380.9" r="10.5"/><circle cx="1215.8" cy="4379.1" r="10.5"/><circle cx="1226.9" cy="4382.8" r="10.5"/><circle cx="1217.6" cy="4371.7" r="10.5"/><circle cx="1293.2" cy="4226.1" r="10.5"/><circle cx="1285.9" cy="4235.3" r="10.5"/><circle cx="1300.6" cy="4235.3" r="10.5"/><circle cx="1309.8" cy="4220.6" r="10.5"/><circle cx="1260.0" cy="4257.4" r="10.5"/><circle cx="1269.3" cy="4262.9" r="10.5"/><circle cx="1278.5" cy="4262.9" r="10.5"/><circle cx="1256.4" cy="4266.6" r="10.5"/><circle cx="1250.8" cy="4283.2" r="10.5"/><circle cx="1267.4" cy="4290.6" r="10.5"/><circle cx="1260.0" cy="4299.8" r="10.5"/><circle cx="1245.3" cy="4299.8" r="10.5"/><circle cx="1250.8" cy="4309.0" r="10.5"/><circle cx="1239.8" cy="4320.1" r="10.5"/><circle cx="1256.4" cy="4312.7" r="10.5"/><circle cx="1263.7" cy="4279.5" r="10.5"/><circle cx="1276.6" cy="4283.2" r="10.5"/><circle cx="1285.9" cy="4257.4" r="10.5"/><circle cx="1293.2" cy="4264.8" r="10.5"/><circle cx="1296.9" cy="4253.7" r="10.5"/><circle cx="1309.8" cy="4244.5" r="10.5"/><circle cx="1304.3" cy="4231.6" r="10.5"/><circle cx="1293.2" cy="4213.2" r="10.5"/><circle cx="1309.8" cy="4207.6" r="10.5"/></g><line x1="1192.0" y1="4402.7" x2="1878.1" y2="3849.3" stroke="#1414b4" stroke-width="1.5"/><rect x="1192.0" y="3849.3" width="686.1" height="553.4" fill="none" stroke="#000" stroke-width="6.5"/><line x1="1192.0" y1="4402.7" x2="1192.0" y2="4414.2" stroke="#000" stroke-width="6.5"/><line x1="1233.8" y1="4402.7" x2="1233.8" y2="4407.7" stroke="#000" stroke-width="6.5"/><line x1="1275.7" y1="4402.7" x2="1275.7" y2="4414.2" stroke="#000" stroke-width="6.5"/><line x1="1317.5" y1="4402.7" x2="1317.5" y2="4407.7" stroke="#000" stroke-width="6.5"/><line x1="1359.3" y1="4402.7" x2="1359.3" y2="4414.2" stroke="#000" stroke-width="6.5"/><line x1="1401.2" y1="4402.7" x2="1401.2" y2="4407.7" stroke="#000" stroke-width="6.5"/><line x1="1443.0" y1="4402.7" x2="1443.0" y2="4414.2" stroke="#000" stroke-width="6.5"/><line x1="1484.8" y1="4402.7" x2="1484.8" y2="4407.7" stroke="#000" stroke-width="6.5"/><line x1="1526.7" y1="4402.7" x2="1526.7" y2="4414.2" stroke="#000" stroke-width="6.5"/><line x1="1568.5" y1="4402.7" x2="1568.5" y2="4407.7" stroke="#000" stroke-width="6.5"/><line x1="1610.4" y1="4402.7" x2="1610.4" y2="4414.2" stroke="#000" stroke-width="6.5"/><line x1="1652.2" y1="4402.7" x2="1652.2" y2="4407.7" stroke="#000" stroke-width="6.5"/><line x1="1694.0" y1="4402.7" x2="1694.0" y2="4414.2" stroke="#000" stroke-width="6.5"/><line x1="1735.9" y1="4402.7" x2="1735.9" y2="4407.7" stroke="#000" stroke-width="6.5"/><line x1="1777.7" y1="4402.7" x2="1777.7" y2="4414.2" stroke="#000" stroke-width="6.5"/><line x1="1819.5" y1="4402.7" x2="1819.5" y2="4407.7" stroke="#000" stroke-width="6.5"/><line x1="1861.4" y1="4402.7" x2="1861.4" y2="4414.2" stroke="#000" stroke-width="6.5"/><line x1="1192.0" y1="4402.7" x2="1180.5" y2="4402.7" stroke="#000" stroke-width="6.5"/><line x1="1192.0" y1="4369.0" x2="1187.0" y2="4369.0" stroke="#000" stroke-width="6.5"/><line x1="1192.0" y1="4335.2" x2="1180.5" y2="4335.2" stroke="#000" stroke-width="6.5"/><line x1="1192.0" y1="4301.5" x2="1187.0" y2="4301.5" stroke="#000" stroke-width="6.5"/><line x1="1192.0" y1="4267.7" x2="1180.5" y2="4267.7" stroke="#000" stroke-width="6.5"/><line x1="1192.0" y1="4234.0" x2="1187.0" y2="4234.0" stroke="#000" stroke-width="6.5"/><line x1="1192.0" y1="4200.2" x2="1180.5" y2="4200.2" stroke="#000" stroke-width="6.5"/><line x1="1192.0" y1="4166.5" x2="1187.0" y2="4166.5" stroke="#000" stroke-width="6.5"/><line x1="1192.0" y1="4132.7" x2="1180.5" y2="4132.7" stroke="#000" stroke-width="6.5"/><line x1="1192.0" y1="4099.0" x2="1187.0" y2="4099.0" stroke="#000" stroke-width="6.5"/><line x1="1192.0" y1="4065.3" x2="1180.5" y2="4065.3" stroke="#000" stroke-width="6.5"/><line x1="1192.0" y1="4031.5" x2="1187.0" y2="4031.5" stroke="#000" stroke-width="6.5"/><line x1="1192.0" y1="3997.8" x2="1180.5" y2="3997.8" stroke="#000" stroke-width="6.5"/><line x1="1192.0" y1="3964.0" x2="1187.0" y2="3964.0" stroke="#000" stroke-width="6.5"/><line x1="1192.0" y1="3930.3" x2="1180.5" y2="3930.3" stroke="#000" stroke-width="6.5"/><line x1="1192.0" y1="3896.5" x2="1187.0" y2="3896.5" stroke="#000" stroke-width="6.5"/><line x1="1192.0" y1="3862.8" x2="1180.5" y2="3862.8" stroke="#000" stroke-width="6.5"/><g font-family="'Liberation Sans', Arial, sans-serif" font-weight="bold" font-size="34.3" fill="#000"><text x="1192.0" y="4447.7" text-anchor="middle">0</text><text x="1275.7" y="4447.7" text-anchor="middle">5</text><text x="1359.3" y="4447.7" text-anchor="middle">10</text><text x="1443.0" y="4447.7" text-anchor="middle">15</text><text x="1526.7" y="4447.7" text-anchor="middle">20</text><text x="1610.4" y="4447.7" text-anchor="middle">25</text><text x="1694.0" y="4447.7" text-anchor="middle">30</text><text x="1777.7" y="4447.7" text-anchor="middle">35</text><text x="1861.4" y="4447.7" text-anchor="middle">40</text><text x="1173.2" y="4413.0" text-anchor="end">0</text><text x="1173.2" y="4345.5" text-anchor="end">5</text><text x="1173.2" y="4278.0" text-anchor="end">10</text><text x="1173.2" y="4210.5" text-anchor="end">15</text><text x="1173.2" y="4143.0" text-anchor="end">20</text><text x="1173.2" y="4075.6" text-anchor="end">25</text><text x="1173.2" y="4008.1" text-anchor="end">30</text><text x="1173.2" y="3940.6" text-anchor="end">35</text><text x="1173.2" y="3873.1" text-anchor="end">40</text></g><text x="1302.00" y="4518.47" font-family="'Liberation Sans', Arial, sans-serif" font-weight="bold" font-size="40.18"><tspan>PM</tspan><tspan font-size="27.3" font-weight="bold" dy="10.8">1.0</tspan><tspan dy="-10.8"> Reference (µg m</tspan><tspan font-size="28.1" font-weight="normal" dy="-16.5">-3</tspan><tspan dy="16.5">)</tspan></text><text transform="translate(1111.22,4408.60) rotate(-90)" font-family="'Liberation Sans', Arial, sans-serif" font-weight="bold" font-size="47.79"><tspan>PM</tspan><tspan font-size="31.3" font-weight="normal" dy="11.1">2.5</tspan><tspan dy="-11.1"> (sensor 2) (µg m</tspan><tspan font-size="31.3" font-weight="normal" dy="-13.6">−3</tspan><tspan dy="13.6">)</tspan></text></g>
<g stroke="#5a646a" stroke-width="1.1"><line x1="120.4" y1="870.7" x2="120.4" y2="874.7"/><line x1="120.4" y1="917" x2="120.4" y2="922.7"/><line x1="120.4" y1="941" x2="120.4" y2="946"/><line x1="120.4" y1="951" x2="120.4" y2="955"/></g>
</svg>
</body></html>
